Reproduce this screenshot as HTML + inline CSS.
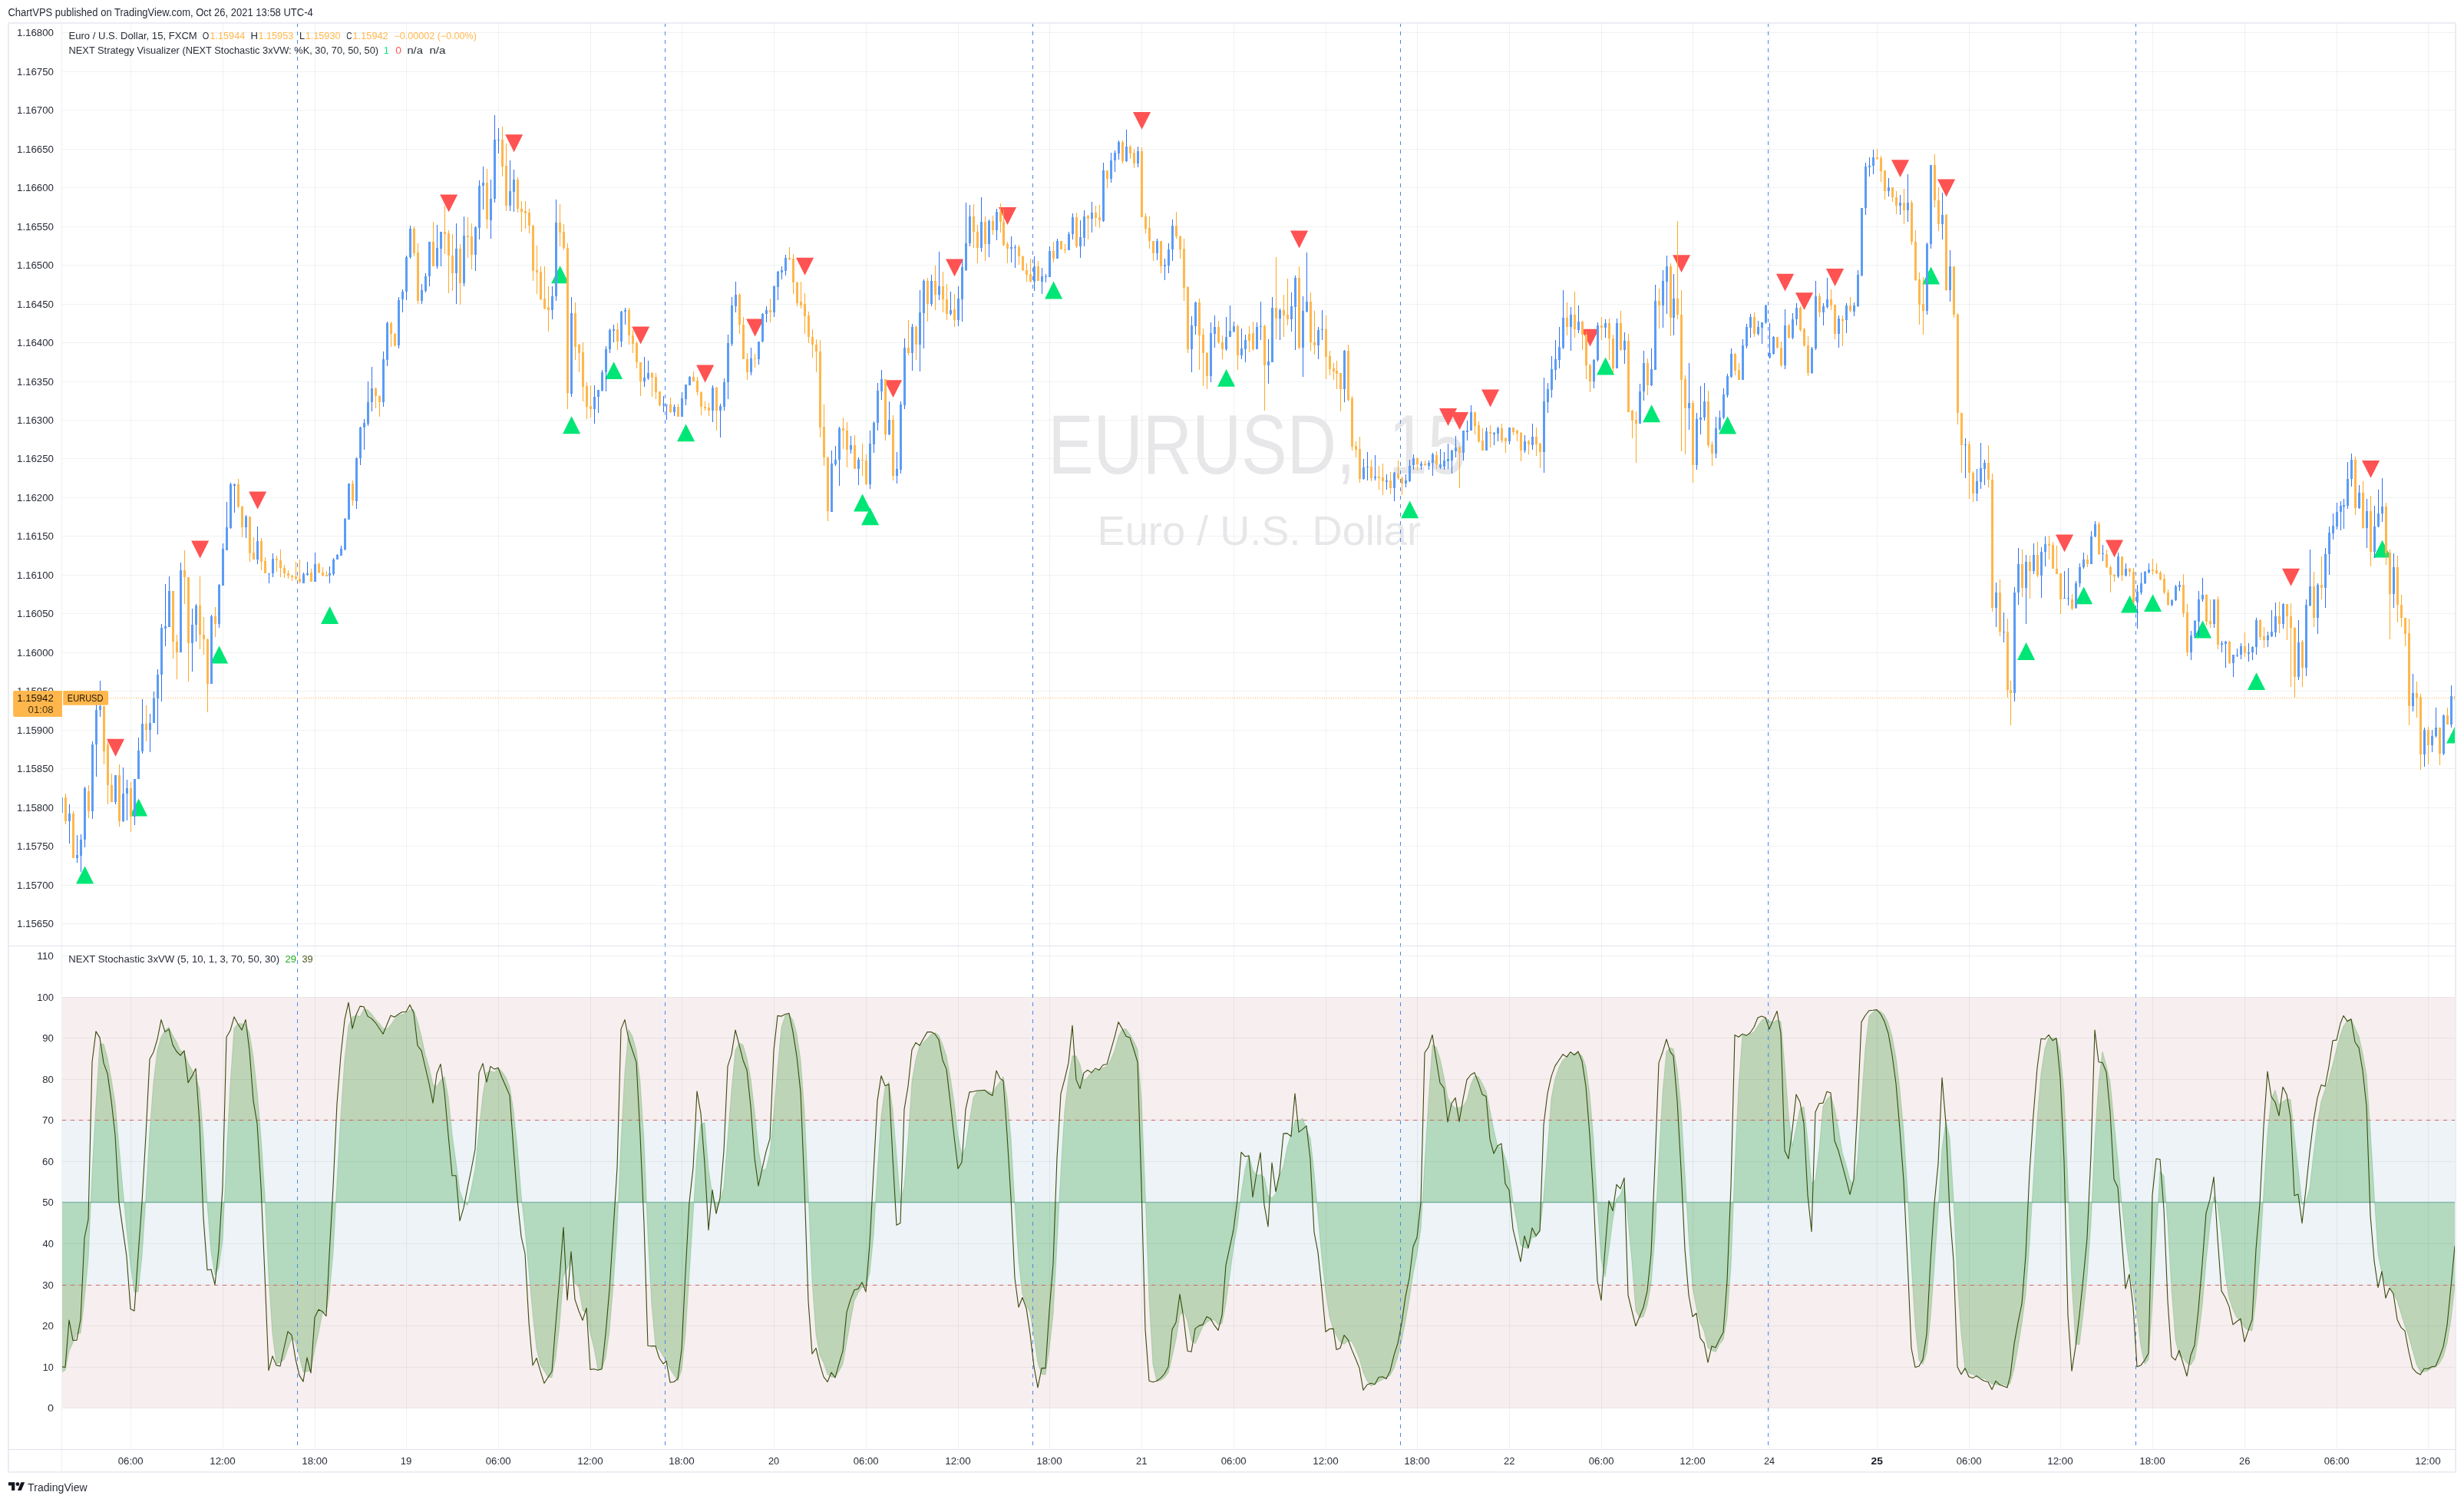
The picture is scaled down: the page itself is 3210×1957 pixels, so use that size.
<!DOCTYPE html>
<html><head><meta charset="utf-8"><title>EURUSD 15 chart</title>
<style>html,body{margin:0;padding:0;background:#fff}svg{display:block;will-change:transform}</style></head>
<body>
<svg width="3210" height="1957" viewBox="0 0 3210 1957" font-family="&quot;Liberation Sans&quot;, sans-serif" font-size="12" fill="#282c37">
<rect width="3210" height="1957" fill="#fff"/>
<clipPath id="cp"><rect x="81.0" y="31" width="3117.5" height="1857.5"/></clipPath>
<g clip-path="url(#cp)">
<polygon points="80,1567.0 80,1788.3 85,1785.2 90,1760.7 95,1749.3 100,1737.5 105,1737.2 110,1692.8 115,1640.3 120,1528.5 125,1438.8 130,1359.9 135,1360.3 140,1378.6 145,1405.9 150,1437.2 155,1493.1 160,1549.0 165,1601.8 170,1648.2 175,1683.6 180,1682.9 185,1636.6 190,1560.2 195,1475.1 200,1409.9 205,1368.2 210,1351.1 215,1342.4 220,1338.1 225,1349.0 230,1357.4 235,1368.9 240,1371.3 245,1384.9 250,1394.0 255,1401.8 260,1419.6 265,1481.0 270,1568.5 275,1631.9 280,1660.8 285,1651.9 290,1615.8 295,1508.4 300,1413.3 305,1339.7 310,1334.0 315,1333.7 320,1334.9 325,1346.5 330,1377.2 335,1422.3 340,1481.3 345,1557.1 350,1664.3 355,1738.0 360,1777.1 365,1775.2 370,1771.8 375,1757.1 380,1743.7 385,1748.4 390,1767.4 395,1787.5 400,1786.9 405,1785.9 410,1758.1 415,1737.2 420,1710.5 425,1709.9 429,1686.3 434,1632.0 439,1539.7 444,1452.7 449,1380.3 454,1336.4 459,1325.0 464,1322.9 469,1324.5 474,1315.1 479,1315.7 484,1321.0 489,1327.9 494,1333.1 499,1339.8 504,1340.8 509,1335.2 514,1327.9 519,1323.3 524,1321.8 529,1319.5 534,1315.4 539,1315.8 544,1330.5 549,1350.3 554,1374.0 559,1390.4 564,1413.1 569,1415.8 574,1407.4 579,1402.7 584,1429.4 589,1477.8 594,1514.1 599,1551.4 604,1565.4 609,1570.7 614,1548.4 619,1522.9 624,1473.0 629,1427.0 634,1397.8 639,1395.0 644,1397.4 649,1391.2 654,1396.2 659,1403.6 664,1415.7 669,1446.8 674,1495.8 679,1557.1 684,1602.4 689,1655.9 694,1711.8 699,1757.1 704,1778.2 709,1786.1 714,1794.4 719,1794.6 724,1768.8 729,1725.7 734,1663.1 739,1652.7 744,1641.3 749,1672.6 754,1677.3 759,1707.2 764,1710.9 769,1736.4 774,1757.5 779,1784.4 784,1784.2 789,1768.9 794,1733.9 799,1673.2 804,1601.2 809,1488.1 814,1397.1 819,1341.2 824,1350.5 829,1368.9 834,1410.5 839,1485.6 844,1608.9 849,1700.6 854,1753.8 859,1759.1 864,1766.8 868,1773.3 873,1783.8 878,1791.6 883,1799.3 888,1785.1 893,1737.5 898,1660.8 903,1581.9 908,1503.3 913,1464.8 918,1462.9 923,1523.2 928,1556.3 933,1578.1 938,1564.2 943,1547.1 948,1483.2 953,1420.8 958,1368.4 963,1359.0 968,1361.5 973,1378.9 978,1405.6 983,1448.1 988,1498.4 993,1525.4 998,1522.7 1003,1502.2 1008,1451.0 1013,1392.0 1018,1338.8 1023,1323.0 1028,1322.0 1033,1328.9 1038,1347.1 1043,1381.3 1048,1448.4 1053,1554.6 1058,1668.3 1063,1738.5 1068,1765.8 1073,1775.7 1078,1790.4 1083,1794.1 1088,1794.5 1093,1786.7 1098,1777.4 1103,1749.0 1108,1721.1 1113,1694.6 1118,1684.4 1123,1677.0 1128,1677.7 1133,1658.1 1138,1610.3 1143,1527.3 1148,1454.3 1153,1416.8 1158,1409.7 1163,1445.4 1168,1505.9 1173,1566.2 1178,1545.0 1183,1484.8 1188,1409.5 1193,1380.5 1198,1362.8 1203,1357.9 1208,1353.3 1213,1347.5 1218,1345.5 1223,1348.9 1228,1361.0 1233,1376.3 1238,1403.4 1243,1436.6 1248,1479.8 1253,1505.9 1258,1494.1 1263,1460.8 1268,1430.1 1273,1422.0 1278,1421.3 1283,1420.7 1288,1421.9 1293,1424.1 1298,1415.7 1303,1409.2 1307,1402.8 1312,1430.7 1317,1482.5 1322,1568.3 1327,1643.1 1332,1686.3 1337,1699.3 1342,1710.9 1347,1741.0 1352,1775.5 1357,1790.4 1362,1791.0 1367,1757.7 1372,1712.4 1377,1621.1 1382,1526.6 1387,1446.5 1392,1405.3 1397,1375.7 1402,1375.9 1407,1387.1 1412,1407.7 1417,1403.5 1422,1396.6 1427,1394.6 1432,1394.6 1437,1391.2 1442,1389.5 1447,1381.0 1452,1369.0 1457,1350.6 1462,1341.0 1467,1340.7 1472,1347.5 1477,1356.4 1482,1367.6 1487,1432.2 1492,1554.0 1497,1692.5 1502,1777.5 1507,1799.8 1512,1798.6 1517,1795.0 1522,1788.8 1527,1767.7 1532,1745.3 1537,1713.9 1542,1708.9 1547,1721.3 1552,1746.3 1557,1750.9 1562,1740.0 1567,1728.2 1572,1722.9 1577,1719.8 1582,1720.1 1587,1726.0 1592,1724.6 1597,1698.5 1602,1662.4 1607,1625.2 1612,1596.6 1617,1555.2 1622,1523.5 1627,1504.7 1632,1524.2 1637,1531.6 1642,1530.2 1647,1533.7 1652,1556.7 1657,1561.1 1662,1555.2 1667,1532.2 1672,1519.6 1677,1494.2 1682,1478.1 1687,1460.7 1692,1460.2 1697,1457.1 1702,1471.1 1707,1482.9 1712,1527.6 1717,1582.6 1722,1639.1 1727,1682.3 1732,1715.6 1737,1732.6 1741,1740.3 1746,1748.7 1751,1751.5 1756,1747.2 1761,1747.8 1766,1758.0 1771,1770.4 1776,1788.0 1781,1799.3 1786,1805.9 1791,1803.4 1796,1800.2 1801,1797.4 1806,1794.9 1811,1792.1 1816,1782.8 1821,1767.4 1826,1746.7 1831,1721.2 1836,1692.9 1841,1659.6 1846,1633.9 1851,1600.9 1856,1516.7 1861,1434.1 1866,1361.4 1871,1364.3 1876,1379.8 1881,1402.8 1886,1430.1 1891,1439.1 1896,1443.4 1901,1443.2 1906,1441.3 1911,1433.5 1916,1413.2 1921,1401.7 1926,1402.9 1931,1411.4 1936,1421.7 1941,1446.3 1946,1472.0 1951,1493.5 1956,1495.3 1961,1508.4 1966,1527.6 1971,1564.7 1976,1591.4 1981,1622.4 1986,1625.5 1991,1626.8 1996,1612.1 2001,1612.0 2006,1604.5 2011,1559.8 2016,1498.1 2021,1431.0 2026,1405.3 2031,1390.7 2036,1381.2 2041,1377.3 2046,1373.8 2051,1374.1 2056,1371.7 2061,1375.7 2066,1389.4 2071,1425.6 2076,1485.0 2081,1569.5 2086,1641.3 2091,1663.7 2096,1628.9 2101,1590.0 2106,1561.8 2111,1556.6 2116,1542.3 2121,1590.4 2126,1643.4 2131,1707.8 2136,1717.1 2141,1715.5 2146,1700.2 2151,1672.9 2156,1610.5 2161,1511.5 2166,1423.9 2171,1369.9 2176,1365.1 2180,1366.7 2185,1393.5 2190,1444.4 2195,1528.5 2200,1613.0 2205,1677.0 2210,1704.7 2215,1723.3 2220,1734.7 2225,1756.1 2230,1759.6 2235,1761.6 2240,1751.6 2245,1745.7 2250,1716.7 2255,1650.3 2260,1521.1 2265,1415.2 2270,1349.0 2275,1349.2 2280,1347.4 2285,1344.4 2290,1336.7 2295,1329.5 2300,1325.4 2305,1330.3 2310,1332.0 2315,1329.1 2320,1331.0 2325,1387.7 2330,1451.9 2335,1493.5 2340,1469.0 2345,1444.4 2350,1441.9 2355,1485.6 2360,1541.9 2365,1537.0 2370,1497.2 2375,1441.3 2380,1432.3 2385,1427.8 2390,1444.2 2395,1469.9 2400,1501.2 2405,1517.9 2410,1537.0 2415,1543.2 2420,1511.5 2425,1436.6 2430,1365.4 2435,1323.8 2440,1318.7 2445,1316.2 2450,1317.7 2455,1322.5 2460,1332.8 2465,1350.6 2470,1377.6 2475,1419.2 2480,1473.8 2485,1550.9 2490,1645.9 2495,1726.9 2500,1772.6 2505,1777.6 2510,1763.1 2515,1717.4 2520,1649.6 2525,1575.7 2530,1496.2 2535,1461.4 2540,1482.5 2545,1562.1 2550,1667.7 2555,1738.1 2560,1784.7 2565,1789.0 2570,1790.7 2575,1794.0 2580,1794.9 2585,1796.1 2590,1798.7 2595,1803.4 2600,1803.4 2605,1804.7 2610,1803.2 2615,1806.1 2619,1802.0 2624,1783.6 2629,1755.2 2634,1724.2 2639,1685.7 2644,1620.4 2649,1538.4 2654,1457.1 2659,1399.1 2664,1366.1 2669,1351.8 2674,1352.7 2679,1352.3 2684,1371.0 2689,1423.2 2694,1543.4 2699,1670.8 2704,1751.5 2709,1751.5 2714,1711.1 2719,1663.9 2724,1594.4 2729,1486.6 2734,1410.2 2739,1370.1 2744,1388.4 2749,1410.1 2754,1460.8 2759,1510.9 2764,1565.5 2769,1613.0 2774,1650.8 2779,1680.6 2784,1714.5 2789,1754.0 2794,1777.2 2799,1771.4 2804,1697.5 2809,1610.0 2814,1525.8 2819,1532.0 2824,1593.7 2829,1679.5 2834,1744.9 2839,1766.4 2844,1769.3 2849,1776.2 2854,1778.4 2859,1770.5 2864,1741.6 2869,1701.8 2874,1644.4 2879,1596.6 2884,1558.9 2889,1569.8 2894,1609.5 2899,1661.8 2904,1691.6 2909,1706.3 2914,1716.7 2919,1721.9 2924,1729.4 2929,1733.3 2934,1733.6 2939,1693.5 2944,1638.5 2949,1554.6 2954,1477.3 2959,1431.0 2964,1420.4 2969,1439.7 2974,1435.3 2979,1432.0 2984,1432.6 2989,1479.8 2994,1523.2 2999,1569.1 3004,1566.4 3009,1548.1 3014,1503.7 3019,1463.9 3024,1434.7 3029,1419.8 3034,1406.1 3039,1386.9 3044,1366.7 3049,1348.1 3053,1337.3 3058,1329.2 3063,1327.4 3068,1338.8 3073,1350.2 3078,1372.6 3083,1400.5 3088,1473.2 3093,1555.8 3098,1634.5 3103,1659.0 3108,1675.1 3113,1675.4 3118,1685.0 3123,1694.4 3128,1711.5 3133,1727.7 3138,1741.6 3143,1759.2 3148,1777.2 3153,1787.3 3158,1787.5 3163,1785.9 3168,1782.5 3173,1781.3 3178,1776.4 3183,1767.7 3188,1749.9 3193,1719.2 3198,1675.5 3198,1567.0" fill="rgba(76,175,80,0.355)"/>
<polyline points="80,1788.3 85,1785.2 90,1760.7 95,1749.3 100,1737.5 105,1737.2 110,1692.8 115,1640.3 120,1528.5 125,1438.8 130,1359.9 135,1360.3 140,1378.6 145,1405.9 150,1437.2 155,1493.1 160,1549.0 165,1601.8 170,1648.2 175,1683.6 180,1682.9 185,1636.6 190,1560.2 195,1475.1 200,1409.9 205,1368.2 210,1351.1 215,1342.4 220,1338.1 225,1349.0 230,1357.4 235,1368.9 240,1371.3 245,1384.9 250,1394.0 255,1401.8 260,1419.6 265,1481.0 270,1568.5 275,1631.9 280,1660.8 285,1651.9 290,1615.8 295,1508.4 300,1413.3 305,1339.7 310,1334.0 315,1333.7 320,1334.9 325,1346.5 330,1377.2 335,1422.3 340,1481.3 345,1557.1 350,1664.3 355,1738.0 360,1777.1 365,1775.2 370,1771.8 375,1757.1 380,1743.7 385,1748.4 390,1767.4 395,1787.5 400,1786.9 405,1785.9 410,1758.1 415,1737.2 420,1710.5 425,1709.9 429,1686.3 434,1632.0 439,1539.7 444,1452.7 449,1380.3 454,1336.4 459,1325.0 464,1322.9 469,1324.5 474,1315.1 479,1315.7 484,1321.0 489,1327.9 494,1333.1 499,1339.8 504,1340.8 509,1335.2 514,1327.9 519,1323.3 524,1321.8 529,1319.5 534,1315.4 539,1315.8 544,1330.5 549,1350.3 554,1374.0 559,1390.4 564,1413.1 569,1415.8 574,1407.4 579,1402.7 584,1429.4 589,1477.8 594,1514.1 599,1551.4 604,1565.4 609,1570.7 614,1548.4 619,1522.9 624,1473.0 629,1427.0 634,1397.8 639,1395.0 644,1397.4 649,1391.2 654,1396.2 659,1403.6 664,1415.7 669,1446.8 674,1495.8 679,1557.1 684,1602.4 689,1655.9 694,1711.8 699,1757.1 704,1778.2 709,1786.1 714,1794.4 719,1794.6 724,1768.8 729,1725.7 734,1663.1 739,1652.7 744,1641.3 749,1672.6 754,1677.3 759,1707.2 764,1710.9 769,1736.4 774,1757.5 779,1784.4 784,1784.2 789,1768.9 794,1733.9 799,1673.2 804,1601.2 809,1488.1 814,1397.1 819,1341.2 824,1350.5 829,1368.9 834,1410.5 839,1485.6 844,1608.9 849,1700.6 854,1753.8 859,1759.1 864,1766.8 868,1773.3 873,1783.8 878,1791.6 883,1799.3 888,1785.1 893,1737.5 898,1660.8 903,1581.9 908,1503.3 913,1464.8 918,1462.9 923,1523.2 928,1556.3 933,1578.1 938,1564.2 943,1547.1 948,1483.2 953,1420.8 958,1368.4 963,1359.0 968,1361.5 973,1378.9 978,1405.6 983,1448.1 988,1498.4 993,1525.4 998,1522.7 1003,1502.2 1008,1451.0 1013,1392.0 1018,1338.8 1023,1323.0 1028,1322.0 1033,1328.9 1038,1347.1 1043,1381.3 1048,1448.4 1053,1554.6 1058,1668.3 1063,1738.5 1068,1765.8 1073,1775.7 1078,1790.4 1083,1794.1 1088,1794.5 1093,1786.7 1098,1777.4 1103,1749.0 1108,1721.1 1113,1694.6 1118,1684.4 1123,1677.0 1128,1677.7 1133,1658.1 1138,1610.3 1143,1527.3 1148,1454.3 1153,1416.8 1158,1409.7 1163,1445.4 1168,1505.9 1173,1566.2 1178,1545.0 1183,1484.8 1188,1409.5 1193,1380.5 1198,1362.8 1203,1357.9 1208,1353.3 1213,1347.5 1218,1345.5 1223,1348.9 1228,1361.0 1233,1376.3 1238,1403.4 1243,1436.6 1248,1479.8 1253,1505.9 1258,1494.1 1263,1460.8 1268,1430.1 1273,1422.0 1278,1421.3 1283,1420.7 1288,1421.9 1293,1424.1 1298,1415.7 1303,1409.2 1307,1402.8 1312,1430.7 1317,1482.5 1322,1568.3 1327,1643.1 1332,1686.3 1337,1699.3 1342,1710.9 1347,1741.0 1352,1775.5 1357,1790.4 1362,1791.0 1367,1757.7 1372,1712.4 1377,1621.1 1382,1526.6 1387,1446.5 1392,1405.3 1397,1375.7 1402,1375.9 1407,1387.1 1412,1407.7 1417,1403.5 1422,1396.6 1427,1394.6 1432,1394.6 1437,1391.2 1442,1389.5 1447,1381.0 1452,1369.0 1457,1350.6 1462,1341.0 1467,1340.7 1472,1347.5 1477,1356.4 1482,1367.6 1487,1432.2 1492,1554.0 1497,1692.5 1502,1777.5 1507,1799.8 1512,1798.6 1517,1795.0 1522,1788.8 1527,1767.7 1532,1745.3 1537,1713.9 1542,1708.9 1547,1721.3 1552,1746.3 1557,1750.9 1562,1740.0 1567,1728.2 1572,1722.9 1577,1719.8 1582,1720.1 1587,1726.0 1592,1724.6 1597,1698.5 1602,1662.4 1607,1625.2 1612,1596.6 1617,1555.2 1622,1523.5 1627,1504.7 1632,1524.2 1637,1531.6 1642,1530.2 1647,1533.7 1652,1556.7 1657,1561.1 1662,1555.2 1667,1532.2 1672,1519.6 1677,1494.2 1682,1478.1 1687,1460.7 1692,1460.2 1697,1457.1 1702,1471.1 1707,1482.9 1712,1527.6 1717,1582.6 1722,1639.1 1727,1682.3 1732,1715.6 1737,1732.6 1741,1740.3 1746,1748.7 1751,1751.5 1756,1747.2 1761,1747.8 1766,1758.0 1771,1770.4 1776,1788.0 1781,1799.3 1786,1805.9 1791,1803.4 1796,1800.2 1801,1797.4 1806,1794.9 1811,1792.1 1816,1782.8 1821,1767.4 1826,1746.7 1831,1721.2 1836,1692.9 1841,1659.6 1846,1633.9 1851,1600.9 1856,1516.7 1861,1434.1 1866,1361.4 1871,1364.3 1876,1379.8 1881,1402.8 1886,1430.1 1891,1439.1 1896,1443.4 1901,1443.2 1906,1441.3 1911,1433.5 1916,1413.2 1921,1401.7 1926,1402.9 1931,1411.4 1936,1421.7 1941,1446.3 1946,1472.0 1951,1493.5 1956,1495.3 1961,1508.4 1966,1527.6 1971,1564.7 1976,1591.4 1981,1622.4 1986,1625.5 1991,1626.8 1996,1612.1 2001,1612.0 2006,1604.5 2011,1559.8 2016,1498.1 2021,1431.0 2026,1405.3 2031,1390.7 2036,1381.2 2041,1377.3 2046,1373.8 2051,1374.1 2056,1371.7 2061,1375.7 2066,1389.4 2071,1425.6 2076,1485.0 2081,1569.5 2086,1641.3 2091,1663.7 2096,1628.9 2101,1590.0 2106,1561.8 2111,1556.6 2116,1542.3 2121,1590.4 2126,1643.4 2131,1707.8 2136,1717.1 2141,1715.5 2146,1700.2 2151,1672.9 2156,1610.5 2161,1511.5 2166,1423.9 2171,1369.9 2176,1365.1 2180,1366.7 2185,1393.5 2190,1444.4 2195,1528.5 2200,1613.0 2205,1677.0 2210,1704.7 2215,1723.3 2220,1734.7 2225,1756.1 2230,1759.6 2235,1761.6 2240,1751.6 2245,1745.7 2250,1716.7 2255,1650.3 2260,1521.1 2265,1415.2 2270,1349.0 2275,1349.2 2280,1347.4 2285,1344.4 2290,1336.7 2295,1329.5 2300,1325.4 2305,1330.3 2310,1332.0 2315,1329.1 2320,1331.0 2325,1387.7 2330,1451.9 2335,1493.5 2340,1469.0 2345,1444.4 2350,1441.9 2355,1485.6 2360,1541.9 2365,1537.0 2370,1497.2 2375,1441.3 2380,1432.3 2385,1427.8 2390,1444.2 2395,1469.9 2400,1501.2 2405,1517.9 2410,1537.0 2415,1543.2 2420,1511.5 2425,1436.6 2430,1365.4 2435,1323.8 2440,1318.7 2445,1316.2 2450,1317.7 2455,1322.5 2460,1332.8 2465,1350.6 2470,1377.6 2475,1419.2 2480,1473.8 2485,1550.9 2490,1645.9 2495,1726.9 2500,1772.6 2505,1777.6 2510,1763.1 2515,1717.4 2520,1649.6 2525,1575.7 2530,1496.2 2535,1461.4 2540,1482.5 2545,1562.1 2550,1667.7 2555,1738.1 2560,1784.7 2565,1789.0 2570,1790.7 2575,1794.0 2580,1794.9 2585,1796.1 2590,1798.7 2595,1803.4 2600,1803.4 2605,1804.7 2610,1803.2 2615,1806.1 2619,1802.0 2624,1783.6 2629,1755.2 2634,1724.2 2639,1685.7 2644,1620.4 2649,1538.4 2654,1457.1 2659,1399.1 2664,1366.1 2669,1351.8 2674,1352.7 2679,1352.3 2684,1371.0 2689,1423.2 2694,1543.4 2699,1670.8 2704,1751.5 2709,1751.5 2714,1711.1 2719,1663.9 2724,1594.4 2729,1486.6 2734,1410.2 2739,1370.1 2744,1388.4 2749,1410.1 2754,1460.8 2759,1510.9 2764,1565.5 2769,1613.0 2774,1650.8 2779,1680.6 2784,1714.5 2789,1754.0 2794,1777.2 2799,1771.4 2804,1697.5 2809,1610.0 2814,1525.8 2819,1532.0 2824,1593.7 2829,1679.5 2834,1744.9 2839,1766.4 2844,1769.3 2849,1776.2 2854,1778.4 2859,1770.5 2864,1741.6 2869,1701.8 2874,1644.4 2879,1596.6 2884,1558.9 2889,1569.8 2894,1609.5 2899,1661.8 2904,1691.6 2909,1706.3 2914,1716.7 2919,1721.9 2924,1729.4 2929,1733.3 2934,1733.6 2939,1693.5 2944,1638.5 2949,1554.6 2954,1477.3 2959,1431.0 2964,1420.4 2969,1439.7 2974,1435.3 2979,1432.0 2984,1432.6 2989,1479.8 2994,1523.2 2999,1569.1 3004,1566.4 3009,1548.1 3014,1503.7 3019,1463.9 3024,1434.7 3029,1419.8 3034,1406.1 3039,1386.9 3044,1366.7 3049,1348.1 3053,1337.3 3058,1329.2 3063,1327.4 3068,1338.8 3073,1350.2 3078,1372.6 3083,1400.5 3088,1473.2 3093,1555.8 3098,1634.5 3103,1659.0 3108,1675.1 3113,1675.4 3118,1685.0 3123,1694.4 3128,1711.5 3133,1727.7 3138,1741.6 3143,1759.2 3148,1777.2 3153,1787.3 3158,1787.5 3163,1785.9 3168,1782.5 3173,1781.3 3178,1776.4 3183,1767.7 3188,1749.9 3193,1719.2 3198,1675.5" fill="none" stroke="rgba(76,175,80,0.3)" stroke-width="1"/>
</g>
<rect x="81" y="1299.20" width="3117.5" height="160.65" fill="rgba(175,85,95,0.1)"/>
<rect x="81" y="1459.85" width="3117.5" height="214.20" fill="rgba(75,135,165,0.1)"/>
<rect x="81" y="1674.05" width="3117.5" height="160.65" fill="rgba(175,85,95,0.1)"/>
<path d="M80.5 42.5H3199M80.5 93.5H3199M80.5 143.5H3199M80.5 194.5H3199M80.5 244.5H3199M80.5 295.5H3199M80.5 345.5H3199M80.5 396.5H3199M80.5 446.5H3199M80.5 497.5H3199M80.5 547.5H3199M80.5 597.5H3199M80.5 648.5H3199M80.5 698.5H3199M80.5 749.5H3199M80.5 799.5H3199M80.5 850.5H3199M80.5 900.5H3199M80.5 951.5H3199M80.5 1001.5H3199M80.5 1052.5H3199M80.5 1102.5H3199M80.5 1153.5H3199M80.5 1203.5H3199M80.5 1834.5H3199M80.5 1781.5H3199M80.5 1727.5H3199M80.5 1674.5H3199M80.5 1620.5H3199M80.5 1566.5H3199M80.5 1513.5H3199M80.5 1459.5H3199M80.5 1406.5H3199M80.5 1352.5H3199M80.5 1299.5H3199M80.5 1245.5H3199M170.5 30V1888.5M290.5 30V1888.5M410.5 30V1888.5M529.5 30V1888.5M649.5 30V1888.5M769.5 30V1888.5M888.5 30V1888.5M1008.5 30V1888.5M1128.5 30V1888.5M1248.5 30V1888.5M1367.5 30V1888.5M1487.5 30V1888.5M1607.5 30V1888.5M1727.5 30V1888.5M1846.5 30V1888.5M1966.5 30V1888.5M2086.5 30V1888.5M2205.5 30V1888.5M2305.5 30V1888.5M2445.5 30V1888.5M2565.5 30V1888.5M2684.5 30V1888.5M2804.5 30V1888.5M2924.5 30V1888.5M3044.5 30V1888.5M3163.5 30V1888.5" stroke="rgba(20,50,40,0.063)" stroke-width="1" fill="none"/>
<text x="1365.25" y="616.8" textLength="400.40" lengthAdjust="spacingAndGlyphs" font-size="110" fill="#e7e7ea">EURUSD,</text><text x="1808.77" y="616.8" textLength="101.94" lengthAdjust="spacingAndGlyphs" font-size="110" fill="#e7e7ea">15</text>
<text x="1429.6" y="710" font-size="54.5" fill="#e7e7ea" textLength="421.4" lengthAdjust="spacingAndGlyphs">Euro / U.S. Dollar</text>
<path d="M387.5 30V1888.5M866.5 30V1888.5M1345.5 30V1888.5M1824.5 30V1888.5M2303.5 30V1888.5M2782.5 30V1888.5" stroke="#4687f0" stroke-width="1" stroke-dasharray="5 6" fill="none"/>
<g clip-path="url(#cp)">
<path d="M141 909.5H3199" stroke="#ffb74d" stroke-width="1" stroke-dasharray="1 2" fill="none"/>
<path fill="#00e676" d="M110.6 1128.5l11.55 22.9h-23.1z"/><path fill="#00e676" d="M180.6 1040.6l11.55 22.9h-23.1z"/><path fill="#00e676" d="M285.6 841.5l11.55 22.9h-23.1z"/><path fill="#00e676" d="M429.6 790.1l11.55 22.9h-23.1z"/><path fill="#00e676" d="M729.6 346.3l11.55 22.9h-23.1z"/><path fill="#00e676" d="M744.6 542.3l11.55 22.9h-23.1z"/><path fill="#00e676" d="M799.6 471.2l11.55 22.9h-23.1z"/><path fill="#00e676" d="M893.6 552.4l11.55 22.9h-23.1z"/><path fill="#00e676" d="M1123.6 643.6l11.55 22.9h-23.1z"/><path fill="#00e676" d="M1133.6 661.4l11.55 22.9h-23.1z"/><path fill="#00e676" d="M1372.6 366.6l11.55 22.9h-23.1z"/><path fill="#00e676" d="M1597.6 480.9l11.55 22.9h-23.1z"/><path fill="#00e676" d="M1836.6 652.4l11.55 22.9h-23.1z"/><path fill="#00e676" d="M2091.6 465.5l11.55 22.9h-23.1z"/><path fill="#00e676" d="M2151.6 527.3l11.55 22.9h-23.1z"/><path fill="#00e676" d="M2250.6 542.6l11.55 22.9h-23.1z"/><path fill="#00e676" d="M2515.6 347.5l11.55 22.9h-23.1z"/><path fill="#00e676" d="M2639.6 837.0l11.55 22.9h-23.1z"/><path fill="#00e676" d="M2714.6 764.4l11.55 22.9h-23.1z"/><path fill="#00e676" d="M2774.6 775.7l11.55 22.9h-23.1z"/><path fill="#00e676" d="M2804.6 774.2l11.55 22.9h-23.1z"/><path fill="#00e676" d="M2869.6 808.5l11.55 22.9h-23.1z"/><path fill="#00e676" d="M2939.6 876.2l11.55 22.9h-23.1z"/><path fill="#00e676" d="M3103.6 703.7l11.55 22.9h-23.1z"/><path fill="#00e676" d="M3198.6 945.7l11.55 22.9h-23.1z"/><path fill="#ff5252" d="M139.0 962.8h23.1l-11.55 22.9z"/><path fill="#ff5252" d="M249.1 704.6h23.1l-11.55 22.9z"/><path fill="#ff5252" d="M324.1 640.6h23.1l-11.55 22.9z"/><path fill="#ff5252" d="M573.1 253.4h23.1l-11.55 22.9z"/><path fill="#ff5252" d="M658.1 175.3h23.1l-11.55 22.9z"/><path fill="#ff5252" d="M823.1 425.6h23.1l-11.55 22.9z"/><path fill="#ff5252" d="M907.1 475.5h23.1l-11.55 22.9z"/><path fill="#ff5252" d="M972.1 415.5h23.1l-11.55 22.9z"/><path fill="#ff5252" d="M1037.0 335.8h23.1l-11.55 22.9z"/><path fill="#ff5252" d="M1152.0 495.2h23.1l-11.55 22.9z"/><path fill="#ff5252" d="M1232.0 337.4h23.1l-11.55 22.9z"/><path fill="#ff5252" d="M1301.0 270.0h23.1l-11.55 22.9z"/><path fill="#ff5252" d="M1476.0 145.9h23.1l-11.55 22.9z"/><path fill="#ff5252" d="M1681.0 300.6h23.1l-11.55 22.9z"/><path fill="#ff5252" d="M1875.0 532.0h23.1l-11.55 22.9z"/><path fill="#ff5252" d="M1890.0 537.1h23.1l-11.55 22.9z"/><path fill="#ff5252" d="M1930.0 507.5h23.1l-11.55 22.9z"/><path fill="#ff5252" d="M2060.0 428.7h23.1l-11.55 22.9z"/><path fill="#ff5252" d="M2179.0 332.2h23.1l-11.55 22.9z"/><path fill="#ff5252" d="M2314.0 356.7h23.1l-11.55 22.9z"/><path fill="#ff5252" d="M2339.0 381.2h23.1l-11.55 22.9z"/><path fill="#ff5252" d="M2379.0 350.0h23.1l-11.55 22.9z"/><path fill="#ff5252" d="M2464.0 208.2h23.1l-11.55 22.9z"/><path fill="#ff5252" d="M2524.0 233.6h23.1l-11.55 22.9z"/><path fill="#ff5252" d="M2678.0 696.4h23.1l-11.55 22.9z"/><path fill="#ff5252" d="M2743.0 703.4h23.1l-11.55 22.9z"/><path fill="#ff5252" d="M2973.0 740.8h23.1l-11.55 22.9z"/><path fill="#ff5252" d="M3077.0 599.9h23.1l-11.55 22.9z"/>

<g shape-rendering="crispEdges"><path fill="#2f6ff5" d="M80 1039h1v20h-1zM90 1048h1v51h-1zM100 1088h1v36h-1zM105 1087h1v49h-1zM110 1025h1v79h-1zM120 966h1v101h-1zM125 914h1v98h-1zM130 887h1v47h-1zM150 1010h1v38h-1zM160 1000h1v71h-1zM165 1016h1v53h-1zM175 1015h1v60h-1zM180 961h1v54h-1zM185 911h1v71h-1zM195 930h1v50h-1zM200 901h1v41h-1zM205 872h1v85h-1zM210 813h1v101h-1zM215 761h1v81h-1zM220 751h1v66h-1zM235 733h1v117h-1zM250 793h1v82h-1zM255 787h1v49h-1zM275 801h1v90h-1zM285 761h1v57h-1zM290 708h1v55h-1zM295 654h1v63h-1zM300 629h1v60h-1zM305 630h1v38h-1zM320 671h1v30h-1zM335 686h1v49h-1zM350 747h1v13h-1zM355 721h1v31h-1zM395 746h1v14h-1zM400 732h1v18h-1zM410 720h1v38h-1zM429 738h1v22h-1zM434 727h1v23h-1zM439 722h1v7h-1zM444 711h1v13h-1zM449 675h1v42h-1zM454 630h1v47h-1zM464 596h1v67h-1zM469 556h1v50h-1zM474 546h1v40h-1zM479 497h1v58h-1zM484 478h1v58h-1zM499 458h1v72h-1zM504 419h1v58h-1zM519 387h1v67h-1zM524 377h1v30h-1zM529 333h1v58h-1zM534 294h1v43h-1zM549 370h1v26h-1zM554 356h1v25h-1zM559 315h1v58h-1zM569 293h1v57h-1zM574 302h1v45h-1zM594 291h1v105h-1zM604 282h1v91h-1zM619 295h1v58h-1zM624 235h1v77h-1zM629 217h1v56h-1zM639 234h1v77h-1zM644 150h1v114h-1zM649 167h1v33h-1zM664 209h1v66h-1zM669 221h1v55h-1zM719 373h1v43h-1zM724 260h1v132h-1zM744 387h1v130h-1zM774 502h1v50h-1zM779 508h1v30h-1zM784 482h1v28h-1zM789 451h1v59h-1zM794 428h1v32h-1zM799 423h1v23h-1zM809 405h1v47h-1zM814 401h1v22h-1zM839 465h1v39h-1zM844 470h1v25h-1zM864 516h1v21h-1zM868 527h1v20h-1zM878 527h1v15h-1zM888 511h1v32h-1zM893 501h1v27h-1zM898 490h1v12h-1zM928 502h1v48h-1zM938 526h1v44h-1zM943 493h1v42h-1zM948 436h1v84h-1zM953 387h1v64h-1zM958 367h1v40h-1zM978 453h1v36h-1zM988 445h1v30h-1zM993 408h1v38h-1zM998 399h1v21h-1zM1008 372h1v41h-1zM1013 353h1v38h-1zM1018 347h1v17h-1zM1023 332h1v27h-1zM1083 587h1v80h-1zM1088 581h1v26h-1zM1093 556h1v77h-1zM1108 568h1v23h-1zM1118 596h1v36h-1zM1133 561h1v76h-1zM1138 549h1v41h-1zM1143 499h1v62h-1zM1148 482h1v39h-1zM1158 523h1v44h-1zM1168 589h1v41h-1zM1173 523h1v94h-1zM1178 441h1v92h-1zM1188 422h1v61h-1zM1198 378h1v106h-1zM1203 364h1v90h-1zM1213 358h1v41h-1zM1223 328h1v63h-1zM1238 380h1v31h-1zM1248 373h1v52h-1zM1253 339h1v80h-1zM1258 264h1v89h-1zM1263 267h1v54h-1zM1278 257h1v71h-1zM1288 286h1v49h-1zM1298 272h1v41h-1zM1317 308h1v34h-1zM1322 319h1v30h-1zM1347 334h1v45h-1zM1357 349h1v34h-1zM1362 357h1v11h-1zM1367 321h1v40h-1zM1377 311h1v26h-1zM1392 302h1v24h-1zM1397 278h1v34h-1zM1407 287h1v49h-1zM1412 274h1v47h-1zM1422 263h1v40h-1zM1437 212h1v77h-1zM1447 199h1v39h-1zM1452 196h1v28h-1zM1457 183h1v25h-1zM1467 169h1v42h-1zM1482 191h1v27h-1zM1507 311h1v28h-1zM1517 337h1v28h-1zM1522 317h1v39h-1zM1527 286h1v54h-1zM1552 412h1v73h-1zM1557 393h1v43h-1zM1577 420h1v78h-1zM1582 411h1v42h-1zM1597 413h1v44h-1zM1602 398h1v41h-1zM1607 419h1v14h-1zM1617 428h1v40h-1zM1622 436h1v36h-1zM1637 420h1v35h-1zM1642 393h1v50h-1zM1652 442h1v58h-1zM1657 387h1v85h-1zM1667 402h1v41h-1zM1682 381h1v51h-1zM1687 359h1v97h-1zM1697 386h1v105h-1zM1702 329h1v78h-1zM1717 426h1v42h-1zM1722 404h1v39h-1zM1751 456h1v68h-1zM1776 598h1v27h-1zM1781 589h1v37h-1zM1791 593h1v33h-1zM1806 618h1v20h-1zM1816 615h1v38h-1zM1831 618h1v17h-1zM1836 599h1v29h-1zM1841 592h1v20h-1zM1851 601h1v11h-1zM1861 600h1v12h-1zM1866 590h1v30h-1zM1876 585h1v26h-1zM1881 589h1v23h-1zM1886 578h1v33h-1zM1891 586h1v31h-1zM1896 568h1v28h-1zM1906 561h1v39h-1zM1911 548h1v26h-1zM1916 528h1v33h-1zM1936 557h1v30h-1zM1946 563h1v17h-1zM1951 556h1v19h-1zM1966 557h1v22h-1zM1986 567h1v23h-1zM1996 552h1v34h-1zM2011 492h1v124h-1zM2016 499h1v39h-1zM2021 464h1v54h-1zM2026 443h1v52h-1zM2031 426h1v54h-1zM2036 378h1v77h-1zM2046 400h1v57h-1zM2056 398h1v36h-1zM2076 468h1v38h-1zM2081 420h1v51h-1zM2091 416h1v24h-1zM2106 415h1v65h-1zM2116 433h1v41h-1zM2136 500h1v52h-1zM2141 457h1v65h-1zM2151 454h1v49h-1zM2156 371h1v111h-1zM2166 352h1v75h-1zM2171 333h1v76h-1zM2180 357h1v80h-1zM2200 473h1v87h-1zM2210 538h1v74h-1zM2215 503h1v63h-1zM2220 499h1v49h-1zM2235 543h1v54h-1zM2240 535h1v26h-1zM2245 506h1v40h-1zM2250 487h1v31h-1zM2255 454h1v38h-1zM2270 442h1v53h-1zM2275 422h1v32h-1zM2280 409h1v31h-1zM2290 418h1v19h-1zM2295 420h1v28h-1zM2300 397h1v25h-1zM2305 421h1v46h-1zM2310 438h1v24h-1zM2325 403h1v78h-1zM2335 408h1v34h-1zM2340 395h1v29h-1zM2360 452h1v35h-1zM2365 366h1v90h-1zM2375 395h1v29h-1zM2380 362h1v40h-1zM2395 411h1v42h-1zM2405 395h1v39h-1zM2415 394h1v18h-1zM2420 352h1v48h-1zM2425 271h1v89h-1zM2430 212h1v68h-1zM2435 205h1v25h-1zM2440 195h1v32h-1zM2460 232h1v24h-1zM2475 254h1v26h-1zM2485 227h1v62h-1zM2510 316h1v94h-1zM2515 215h1v109h-1zM2530 251h1v61h-1zM2540 326h1v67h-1zM2560 571h1v52h-1zM2575 611h1v42h-1zM2580 577h1v60h-1zM2585 599h1v33h-1zM2600 759h1v58h-1zM2610 798h1v39h-1zM2624 765h1v149h-1zM2629 714h1v74h-1zM2639 723h1v90h-1zM2649 708h1v40h-1zM2659 713h1v66h-1zM2664 699h1v39h-1zM2689 744h1v36h-1zM2694 740h1v49h-1zM2704 757h1v36h-1zM2709 734h1v31h-1zM2714 720h1v21h-1zM2724 692h1v43h-1zM2729 679h1v21h-1zM2739 710h1v21h-1zM2759 720h1v33h-1zM2769 734h1v17h-1zM2784 762h1v57h-1zM2789 746h1v29h-1zM2794 744h1v17h-1zM2799 734h1v13h-1zM2829 781h1v9h-1zM2834 762h1v21h-1zM2839 757h1v13h-1zM2854 822h1v38h-1zM2859 808h1v23h-1zM2864 770h1v59h-1zM2869 753h1v31h-1zM2884 781h1v37h-1zM2894 835h1v15h-1zM2899 835h1v35h-1zM2909 853h1v29h-1zM2914 845h1v11h-1zM2919 838h1v21h-1zM2929 838h1v24h-1zM2934 842h1v18h-1zM2939 805h1v48h-1zM2954 823h1v20h-1zM2959 795h1v35h-1zM2964 785h1v45h-1zM2974 786h1v33h-1zM2994 808h1v78h-1zM3004 781h1v100h-1zM3009 716h1v74h-1zM3019 760h1v66h-1zM3029 714h1v78h-1zM3034 686h1v63h-1zM3039 669h1v34h-1zM3044 655h1v35h-1zM3049 653h1v38h-1zM3053 650h1v39h-1zM3058 602h1v61h-1zM3063 591h1v43h-1zM3073 632h1v31h-1zM3083 650h1v64h-1zM3093 659h1v68h-1zM3098 638h1v49h-1zM3103 623h1v57h-1zM3118 721h1v71h-1zM3143 878h1v49h-1zM3158 948h1v51h-1zM3168 951h1v29h-1zM3173 922h1v39h-1zM3183 931h1v53h-1zM3193 893h1v55h-1z"/>
<path fill="#5b9cf6" d="M79 1039h3v20h-3zM89 1060h3v10h-3zM99 1114h3v4h-3zM104 1094h3v21h-3zM109 1027h3v67h-3zM119 970h3v87h-3zM124 925h3v45h-3zM129 920h3v5h-3zM149 1010h3v35h-3zM159 1034h3v36h-3zM164 1027h3v7h-3zM174 1015h3v49h-3zM179 978h3v37h-3zM184 943h3v36h-3zM194 942h3v9h-3zM199 910h3v32h-3zM204 879h3v31h-3zM209 818h3v61h-3zM214 816h3v3h-3zM219 770h3v47h-3zM234 743h3v107h-3zM249 814h3v24h-3zM254 789h3v25h-3zM274 803h3v88h-3zM284 762h3v51h-3zM289 715h3v48h-3zM294 687h3v30h-3zM299 631h3v57h-3zM304 631h3v2h-3zM319 673h3v14h-3zM334 705h3v24h-3zM349 747h3v1h-3zM354 728h3v19h-3zM394 748h3v12h-3zM399 747h3v2h-3zM409 735h3v23h-3zM428 747h3v3h-3zM433 729h3v19h-3zM438 723h3v6h-3zM443 715h3v9h-3zM448 676h3v40h-3zM453 630h3v47h-3zM463 597h3v56h-3zM468 557h3v40h-3zM473 551h3v6h-3zM478 524h3v28h-3zM483 506h3v18h-3zM498 468h3v56h-3zM503 421h3v48h-3zM518 391h3v59h-3zM523 380h3v10h-3zM528 335h3v45h-3zM533 298h3v37h-3zM548 378h3v14h-3zM553 360h3v19h-3zM558 315h3v45h-3zM568 323h3v24h-3zM573 302h3v22h-3zM593 324h3v32h-3zM603 307h3v62h-3zM618 296h3v36h-3zM623 242h3v55h-3zM628 238h3v4h-3zM638 259h3v28h-3zM643 182h3v77h-3zM648 182h3v1h-3zM663 249h3v19h-3zM668 234h3v16h-3zM718 386h3v18h-3zM723 290h3v96h-3zM743 408h3v105h-3zM773 517h3v16h-3zM778 508h3v9h-3zM783 485h3v24h-3zM788 455h3v30h-3zM793 430h3v25h-3zM798 429h3v2h-3zM808 406h3v39h-3zM813 404h3v2h-3zM838 492h3v5h-3zM843 486h3v7h-3zM863 527h3v1h-3zM867 527h3v1h-3zM877 530h3v7h-3zM887 519h3v24h-3zM892 501h3v19h-3zM897 491h3v11h-3zM927 505h3v30h-3zM937 529h3v6h-3zM942 498h3v32h-3zM947 447h3v51h-3zM952 398h3v50h-3zM957 384h3v15h-3zM977 467h3v18h-3zM987 445h3v23h-3zM992 409h3v36h-3zM997 404h3v5h-3zM1007 373h3v34h-3zM1012 354h3v20h-3zM1017 352h3v3h-3zM1022 336h3v17h-3zM1082 604h3v63h-3zM1087 599h3v6h-3zM1092 558h3v41h-3zM1107 580h3v6h-3zM1117 599h3v12h-3zM1132 578h3v53h-3zM1137 551h3v28h-3zM1142 509h3v42h-3zM1147 494h3v16h-3zM1157 547h3v19h-3zM1167 611h3v9h-3zM1172 527h3v85h-3zM1177 453h3v75h-3zM1187 426h3v34h-3zM1197 407h3v42h-3zM1202 366h3v42h-3zM1212 366h3v30h-3zM1222 373h3v11h-3zM1237 404h3v5h-3zM1247 389h3v28h-3zM1252 348h3v42h-3zM1257 317h3v35h-3zM1262 282h3v35h-3zM1277 289h3v34h-3zM1287 288h3v30h-3zM1297 276h3v24h-3zM1316 322h3v2h-3zM1321 322h3v1h-3zM1346 347h3v20h-3zM1356 360h3v7h-3zM1361 360h3v1h-3zM1366 327h3v34h-3zM1376 314h3v23h-3zM1391 305h3v21h-3zM1396 283h3v22h-3zM1406 309h3v12h-3zM1411 282h3v28h-3zM1421 277h3v8h-3zM1436 222h3v66h-3zM1446 209h3v24h-3zM1451 199h3v10h-3zM1456 185h3v15h-3zM1466 191h3v19h-3zM1481 197h3v16h-3zM1506 314h3v16h-3zM1516 345h3v2h-3zM1521 325h3v21h-3zM1526 294h3v31h-3zM1551 424h3v31h-3zM1556 394h3v31h-3zM1576 434h3v56h-3zM1581 426h3v9h-3zM1596 439h3v16h-3zM1601 431h3v8h-3zM1606 425h3v7h-3zM1616 454h3v9h-3zM1621 443h3v12h-3zM1636 426h3v29h-3zM1641 425h3v1h-3zM1651 471h3v5h-3zM1656 401h3v71h-3zM1666 404h3v11h-3zM1681 399h3v17h-3zM1686 362h3v38h-3zM1696 405h3v48h-3zM1701 393h3v13h-3zM1716 430h3v20h-3zM1721 429h3v1h-3zM1750 457h3v50h-3zM1775 609h3v15h-3zM1780 608h3v1h-3zM1790 621h3v2h-3zM1805 626h3v2h-3zM1815 616h3v20h-3zM1830 626h3v4h-3zM1835 607h3v20h-3zM1840 597h3v9h-3zM1850 604h3v3h-3zM1860 603h3v4h-3zM1865 592h3v11h-3zM1875 605h3v4h-3zM1880 600h3v8h-3zM1885 598h3v3h-3zM1890 587h3v13h-3zM1895 583h3v5h-3zM1905 561h3v29h-3zM1910 561h3v2h-3zM1915 537h3v24h-3zM1935 562h3v25h-3zM1945 564h3v2h-3zM1950 558h3v7h-3zM1965 557h3v18h-3zM1985 575h3v12h-3zM1995 569h3v11h-3zM2010 523h3v66h-3zM2015 507h3v17h-3zM2020 481h3v27h-3zM2025 468h3v14h-3zM2030 452h3v17h-3zM2035 414h3v39h-3zM2045 410h3v16h-3zM2055 419h3v11h-3zM2075 469h3v28h-3zM2080 424h3v45h-3zM2090 421h3v6h-3zM2105 421h3v59h-3zM2115 444h3v12h-3zM2135 510h3v42h-3zM2140 473h3v37h-3zM2150 481h3v21h-3zM2155 392h3v90h-3zM2165 366h3v32h-3zM2170 347h3v20h-3zM2179 389h3v25h-3zM2199 525h3v7h-3zM2209 546h3v60h-3zM2214 544h3v3h-3zM2219 523h3v21h-3zM2234 558h3v33h-3zM2239 544h3v15h-3zM2244 514h3v30h-3zM2249 490h3v25h-3zM2254 461h3v30h-3zM2269 450h3v45h-3zM2274 426h3v25h-3zM2279 413h3v14h-3zM2289 426h3v9h-3zM2294 420h3v7h-3zM2299 398h3v22h-3zM2304 460h3v6h-3zM2309 439h3v22h-3zM2324 424h3v52h-3zM2334 416h3v24h-3zM2339 401h3v15h-3zM2359 454h3v32h-3zM2364 386h3v68h-3zM2374 399h3v8h-3zM2379 390h3v10h-3zM2394 415h3v20h-3zM2404 398h3v19h-3zM2414 398h3v8h-3zM2419 358h3v41h-3zM2424 271h3v88h-3zM2429 217h3v54h-3zM2434 216h3v2h-3zM2439 205h3v11h-3zM2459 244h3v5h-3zM2474 264h3v4h-3zM2484 264h3v10h-3zM2509 318h3v87h-3zM2514 215h3v103h-3zM2529 280h3v12h-3zM2539 347h3v31h-3zM2559 579h3v1h-3zM2574 627h3v16h-3zM2579 610h3v18h-3zM2584 603h3v8h-3zM2599 772h3v20h-3zM2609 823h3v1h-3zM2623 772h3v131h-3zM2628 735h3v37h-3zM2638 732h3v34h-3zM2648 723h3v21h-3zM2658 719h3v31h-3zM2663 709h3v10h-3zM2688 779h3v1h-3zM2693 779h3v1h-3zM2703 760h3v32h-3zM2708 739h3v21h-3zM2713 729h3v10h-3zM2723 699h3v36h-3zM2728 683h3v16h-3zM2738 721h3v1h-3zM2758 725h3v26h-3zM2768 741h3v9h-3zM2783 771h3v14h-3zM2788 760h3v12h-3zM2793 745h3v15h-3zM2798 742h3v4h-3zM2828 782h3v6h-3zM2833 764h3v18h-3zM2838 762h3v3h-3zM2853 828h3v22h-3zM2858 809h3v20h-3zM2863 781h3v29h-3zM2868 775h3v6h-3zM2883 781h3v32h-3zM2893 838h3v2h-3zM2898 836h3v3h-3zM2908 853h3v11h-3zM2913 853h3v1h-3zM2918 842h3v11h-3zM2928 850h3v2h-3zM2933 843h3v7h-3zM2938 808h3v35h-3zM2953 828h3v6h-3zM2958 823h3v6h-3zM2963 803h3v21h-3zM2973 787h3v26h-3zM2993 837h3v45h-3zM3003 788h3v82h-3zM3008 764h3v25h-3zM3018 762h3v43h-3zM3028 722h3v44h-3zM3033 694h3v28h-3zM3038 685h3v10h-3zM3043 667h3v19h-3zM3048 659h3v8h-3zM3052 658h3v2h-3zM3057 624h3v35h-3zM3062 599h3v25h-3zM3072 642h3v20h-3zM3082 666h3v22h-3zM3092 686h3v33h-3zM3097 669h3v17h-3zM3102 660h3v9h-3zM3117 739h3v35h-3zM3142 903h3v17h-3zM3157 951h3v32h-3zM3167 959h3v12h-3zM3172 948h3v11h-3zM3182 932h3v50h-3zM3192 907h3v37h-3z"/>
<path fill="#ffa726" d="M85 1034h1v40h-1zM95 1057h1v61h-1zM115 1023h1v43h-1zM135 920h1v76h-1zM140 966h1v82h-1zM145 1008h1v37h-1zM155 996h1v81h-1zM170 1019h1v65h-1zM190 919h1v47h-1zM225 770h1v88h-1zM230 827h1v58h-1zM240 717h1v70h-1zM245 752h1v136h-1zM260 751h1v95h-1zM265 804h1v49h-1zM270 832h1v96h-1zM280 791h1v39h-1zM310 624h1v38h-1zM315 659h1v41h-1zM325 673h1v59h-1zM330 700h1v29h-1zM340 701h1v42h-1zM345 726h1v21h-1zM360 724h1v21h-1zM365 716h1v36h-1zM370 736h1v17h-1zM375 743h1v11h-1zM380 749h1v8h-1zM385 732h1v24h-1zM390 729h1v31h-1zM405 741h1v17h-1zM415 733h1v14h-1zM420 739h1v12h-1zM425 744h1v7h-1zM459 626h1v33h-1zM489 505h1v27h-1zM494 515h1v28h-1zM509 419h1v33h-1zM514 434h1v18h-1zM539 295h1v39h-1zM544 317h1v79h-1zM564 289h1v58h-1zM579 268h1v63h-1zM584 300h1v82h-1zM589 305h1v74h-1zM599 318h1v79h-1zM609 283h1v53h-1zM614 291h1v60h-1zM634 220h1v78h-1zM654 165h1v65h-1zM659 187h1v88h-1zM674 231h1v46h-1zM679 262h1v40h-1zM684 262h1v36h-1zM689 272h1v32h-1zM694 293h1v73h-1zM699 320h1v63h-1zM704 347h1v44h-1zM709 347h1v56h-1zM714 373h1v59h-1zM729 266h1v55h-1zM734 292h1v34h-1zM739 317h1v216h-1zM749 394h1v75h-1zM754 448h1v37h-1zM759 446h1v77h-1zM764 498h1v48h-1zM769 502h1v42h-1zM804 421h1v35h-1zM819 401h1v48h-1zM824 430h1v30h-1zM829 445h1v35h-1zM834 472h1v44h-1zM849 485h1v32h-1zM854 486h1v34h-1zM859 510h1v20h-1zM873 518h1v20h-1zM883 526h1v17h-1zM903 484h1v13h-1zM908 491h1v24h-1zM913 510h1v31h-1zM918 523h1v12h-1zM923 525h1v17h-1zM933 504h1v57h-1zM963 382h1v53h-1zM968 413h1v55h-1zM973 460h1v35h-1zM983 461h1v18h-1zM1003 389h1v31h-1zM1028 322h1v17h-1zM1033 331h1v52h-1zM1038 367h1v32h-1zM1043 367h1v35h-1zM1048 382h1v53h-1zM1053 406h1v41h-1zM1058 429h1v37h-1zM1063 442h1v43h-1zM1068 443h1v127h-1zM1073 527h1v80h-1zM1078 595h1v84h-1zM1098 544h1v41h-1zM1103 550h1v59h-1zM1113 567h1v44h-1zM1123 578h1v42h-1zM1128 592h1v40h-1zM1153 494h1v80h-1zM1163 541h1v85h-1zM1183 417h1v46h-1zM1193 424h1v45h-1zM1208 362h1v57h-1zM1218 346h1v58h-1zM1228 354h1v53h-1zM1233 370h1v47h-1zM1243 383h1v43h-1zM1268 266h1v57h-1zM1273 293h1v50h-1zM1283 282h1v58h-1zM1293 281h1v25h-1zM1303 265h1v38h-1zM1307 273h1v48h-1zM1312 315h1v28h-1zM1327 319h1v26h-1zM1332 333h1v20h-1zM1337 343h1v24h-1zM1342 337h1v31h-1zM1352 340h1v26h-1zM1372 315h1v27h-1zM1382 314h1v11h-1zM1387 318h1v12h-1zM1402 277h1v46h-1zM1417 280h1v32h-1zM1427 268h1v27h-1zM1432 267h1v30h-1zM1442 222h1v23h-1zM1462 183h1v30h-1zM1472 189h1v18h-1zM1477 194h1v25h-1zM1487 192h1v91h-1zM1492 278h1v26h-1zM1497 282h1v42h-1zM1502 314h1v26h-1zM1512 314h1v42h-1zM1532 276h1v35h-1zM1537 307h1v30h-1zM1542 311h1v81h-1zM1547 373h1v87h-1zM1562 389h1v93h-1zM1567 428h1v75h-1zM1572 459h1v48h-1zM1587 418h1v30h-1zM1592 437h1v31h-1zM1612 423h1v59h-1zM1627 425h1v34h-1zM1632 419h1v38h-1zM1647 423h1v112h-1zM1662 335h1v107h-1zM1672 384h1v55h-1zM1677 363h1v61h-1zM1692 347h1v108h-1zM1707 381h1v76h-1zM1712 405h1v57h-1zM1727 411h1v83h-1zM1732 457h1v32h-1zM1737 473h1v22h-1zM1741 470h1v37h-1zM1746 486h1v50h-1zM1756 449h1v74h-1zM1761 516h1v71h-1zM1766 575h1v21h-1zM1771 569h1v60h-1zM1786 599h1v28h-1zM1796 607h1v31h-1zM1801 604h1v41h-1zM1811 615h1v29h-1zM1821 600h1v25h-1zM1826 621h1v24h-1zM1846 596h1v17h-1zM1856 600h1v7h-1zM1871 588h1v23h-1zM1901 581h1v55h-1zM1921 537h1v29h-1zM1926 549h1v28h-1zM1931 558h1v29h-1zM1941 554h1v29h-1zM1956 552h1v25h-1zM1961 570h1v20h-1zM1971 557h1v10h-1zM1976 560h1v15h-1zM1981 563h1v38h-1zM1991 573h1v19h-1zM2001 557h1v37h-1zM2006 577h1v33h-1zM2041 394h1v43h-1zM2051 380h1v60h-1zM2061 418h1v38h-1zM2066 432h1v62h-1zM2071 474h1v37h-1zM2086 413h1v30h-1zM2096 415h1v54h-1zM2101 436h1v49h-1zM2111 405h1v52h-1zM2121 435h1v102h-1zM2126 534h1v37h-1zM2131 536h1v67h-1zM2146 467h1v48h-1zM2161 376h1v52h-1zM2176 343h1v95h-1zM2185 288h1v128h-1zM2190 378h1v210h-1zM2195 489h1v103h-1zM2205 522h1v107h-1zM2225 509h1v74h-1zM2230 575h1v32h-1zM2260 460h1v29h-1zM2265 473h1v22h-1zM2285 407h1v32h-1zM2315 439h1v15h-1zM2320 445h1v33h-1zM2330 422h1v19h-1zM2345 399h1v33h-1zM2350 427h1v25h-1zM2355 438h1v52h-1zM2370 382h1v31h-1zM2385 377h1v27h-1zM2390 397h1v45h-1zM2400 411h1v40h-1zM2410 387h1v20h-1zM2445 194h1v14h-1zM2450 203h1v34h-1zM2455 222h1v38h-1zM2465 244h1v19h-1zM2470 249h1v30h-1zM2480 246h1v46h-1zM2490 261h1v58h-1zM2495 300h1v66h-1zM2500 355h1v68h-1zM2505 361h1v75h-1zM2520 201h1v69h-1zM2525 244h1v57h-1zM2535 279h1v100h-1zM2545 347h1v67h-1zM2550 408h1v145h-1zM2555 538h1v78h-1zM2565 575h1v75h-1zM2570 614h1v40h-1zM2590 580h1v55h-1zM2595 617h1v180h-1zM2605 755h1v74h-1zM2615 806h1v103h-1zM2619 887h1v58h-1zM2634 716h1v62h-1zM2644 724h1v56h-1zM2654 706h1v46h-1zM2669 698h1v31h-1zM2674 706h1v35h-1zM2679 711h1v37h-1zM2684 747h1v53h-1zM2699 774h1v21h-1zM2719 723h1v16h-1zM2734 680h1v43h-1zM2744 716h1v24h-1zM2749 737h1v35h-1zM2754 748h1v10h-1zM2764 725h1v32h-1zM2774 740h1v11h-1zM2779 740h1v46h-1zM2804 728h1v21h-1zM2809 734h1v14h-1zM2814 744h1v12h-1zM2819 748h1v26h-1zM2824 768h1v21h-1zM2844 748h1v56h-1zM2849 787h1v68h-1zM2874 774h1v41h-1zM2879 781h1v37h-1zM2889 777h1v69h-1zM2904 835h1v30h-1zM2924 824h1v32h-1zM2944 807h1v27h-1zM2949 817h1v27h-1zM2969 784h1v41h-1zM2979 787h1v47h-1zM2984 786h1v109h-1zM2989 817h1v92h-1zM2999 834h1v61h-1zM3014 745h1v72h-1zM3024 725h1v56h-1zM3068 595h1v76h-1zM3078 627h1v62h-1zM3088 646h1v92h-1zM3108 655h1v81h-1zM3113 716h1v117h-1zM3123 724h1v87h-1zM3128 775h1v42h-1zM3133 805h1v37h-1zM3138 806h1v139h-1zM3148 888h1v47h-1zM3153 904h1v99h-1zM3163 947h1v49h-1zM3178 948h1v49h-1zM3188 922h1v22h-1zM3198 898h1v24h-1z"/>
<path fill="#ffb74d" d="M84 1039h3v31h-3zM94 1060h3v58h-3zM114 1031h3v26h-3zM134 920h3v59h-3zM139 970h3v53h-3zM144 1023h3v22h-3zM154 1010h3v60h-3zM169 1027h3v37h-3zM189 943h3v8h-3zM224 770h3v66h-3zM229 836h3v14h-3zM239 743h3v9h-3zM244 752h3v86h-3zM259 789h3v38h-3zM264 827h3v6h-3zM269 833h3v58h-3zM279 803h3v10h-3zM309 631h3v29h-3zM314 660h3v27h-3zM324 673h3v48h-3zM329 720h3v9h-3zM339 705h3v27h-3zM344 731h3v16h-3zM359 728h3v2h-3zM364 730h3v10h-3zM369 740h3v7h-3zM374 747h3v3h-3zM379 750h3v2h-3zM384 751h3v3h-3zM389 754h3v4h-3zM404 746h3v12h-3zM414 735h3v11h-3zM419 746h3v4h-3zM424 749h3v2h-3zM458 630h3v22h-3zM488 506h3v10h-3zM493 516h3v8h-3zM508 421h3v14h-3zM513 435h3v15h-3zM538 298h3v32h-3zM543 329h3v63h-3zM563 315h3v32h-3zM578 302h3v3h-3zM583 304h3v29h-3zM588 333h3v23h-3zM598 324h3v45h-3zM608 307h3v2h-3zM613 308h3v24h-3zM633 238h3v48h-3zM653 182h3v35h-3zM658 216h3v52h-3zM673 234h3v38h-3zM678 272h3v4h-3zM683 275h3v3h-3zM688 277h3v17h-3zM693 294h3v59h-3zM698 352h3v3h-3zM703 354h3v36h-3zM708 389h3v13h-3zM713 400h3v4h-3zM728 290h3v13h-3zM733 302h3v21h-3zM738 323h3v189h-3zM748 408h3v44h-3zM753 449h3v11h-3zM758 459h3v45h-3zM763 503h3v27h-3zM768 529h3v4h-3zM803 429h3v16h-3zM818 404h3v33h-3zM823 437h3v11h-3zM828 447h3v25h-3zM833 472h3v25h-3zM848 486h3v6h-3zM853 491h3v20h-3zM858 510h3v18h-3zM872 527h3v10h-3zM882 530h3v13h-3zM902 491h3v6h-3zM907 496h3v15h-3zM912 511h3v19h-3zM917 530h3v2h-3zM922 531h3v4h-3zM932 505h3v30h-3zM962 384h3v39h-3zM967 423h3v45h-3zM972 468h3v17h-3zM982 467h3v1h-3zM1002 404h3v3h-3zM1027 336h3v2h-3zM1032 337h3v31h-3zM1037 368h3v27h-3zM1042 393h3v5h-3zM1047 396h3v16h-3zM1052 411h3v28h-3zM1057 439h3v10h-3zM1062 449h3v9h-3zM1067 458h3v99h-3zM1072 556h3v40h-3zM1077 596h3v70h-3zM1097 558h3v3h-3zM1102 561h3v25h-3zM1112 580h3v31h-3zM1122 599h3v1h-3zM1127 600h3v31h-3zM1152 494h3v72h-3zM1162 547h3v73h-3zM1182 453h3v7h-3zM1192 426h3v23h-3zM1207 366h3v30h-3zM1217 366h3v18h-3zM1227 373h3v17h-3zM1232 390h3v19h-3zM1242 403h3v14h-3zM1267 282h3v20h-3zM1272 302h3v21h-3zM1282 289h3v29h-3zM1292 288h3v12h-3zM1302 276h3v13h-3zM1306 289h3v30h-3zM1311 318h3v6h-3zM1326 322h3v12h-3zM1331 334h3v18h-3zM1336 352h3v6h-3zM1341 357h3v10h-3zM1351 347h3v19h-3zM1371 327h3v10h-3zM1381 314h3v11h-3zM1386 325h3v1h-3zM1401 283h3v38h-3zM1416 281h3v4h-3zM1426 277h3v7h-3zM1431 283h3v4h-3zM1441 222h3v11h-3zM1461 185h3v25h-3zM1471 191h3v9h-3zM1476 199h3v14h-3zM1486 197h3v86h-3zM1491 282h3v16h-3zM1496 297h3v17h-3zM1501 314h3v16h-3zM1511 314h3v33h-3zM1531 294h3v14h-3zM1536 308h3v17h-3zM1541 324h3v51h-3zM1546 374h3v81h-3zM1561 394h3v43h-3zM1566 436h3v24h-3zM1571 460h3v30h-3zM1586 426h3v20h-3zM1591 446h3v9h-3zM1611 425h3v38h-3zM1626 435h3v9h-3zM1631 434h3v21h-3zM1646 425h3v51h-3zM1661 401h3v14h-3zM1671 404h3v7h-3zM1676 410h3v6h-3zM1691 362h3v91h-3zM1706 393h3v53h-3zM1711 446h3v4h-3zM1726 429h3v36h-3zM1731 464h3v17h-3zM1736 480h3v4h-3zM1740 483h3v4h-3zM1745 486h3v21h-3zM1755 457h3v64h-3zM1760 519h3v63h-3zM1765 581h3v5h-3zM1770 585h3v39h-3zM1785 608h3v15h-3zM1795 621h3v2h-3zM1800 622h3v5h-3zM1810 626h3v10h-3zM1820 617h3v6h-3zM1825 623h3v7h-3zM1845 597h3v8h-3zM1855 604h3v2h-3zM1870 593h3v12h-3zM1900 583h3v7h-3zM1920 537h3v18h-3zM1925 554h3v21h-3zM1930 574h3v13h-3zM1940 563h3v2h-3zM1955 558h3v16h-3zM1960 571h3v4h-3zM1970 557h3v6h-3zM1975 561h3v4h-3zM1980 564h3v23h-3zM1990 575h3v4h-3zM2000 569h3v10h-3zM2005 578h3v11h-3zM2040 414h3v12h-3zM2050 410h3v19h-3zM2060 419h3v17h-3zM2065 436h3v40h-3zM2070 476h3v21h-3zM2085 424h3v3h-3zM2095 421h3v20h-3zM2100 441h3v39h-3zM2110 421h3v35h-3zM2120 444h3v93h-3zM2125 535h3v13h-3zM2130 547h3v5h-3zM2145 473h3v29h-3zM2160 392h3v6h-3zM2175 347h3v67h-3zM2184 389h3v21h-3zM2189 410h3v85h-3zM2194 494h3v38h-3zM2204 525h3v81h-3zM2224 523h3v57h-3zM2229 579h3v12h-3zM2259 461h3v22h-3zM2264 482h3v13h-3zM2284 413h3v22h-3zM2314 439h3v14h-3zM2319 453h3v23h-3zM2329 424h3v16h-3zM2344 401h3v29h-3zM2349 429h3v21h-3zM2354 450h3v36h-3zM2369 386h3v21h-3zM2384 390h3v8h-3zM2389 397h3v38h-3zM2399 416h3v2h-3zM2409 398h3v7h-3zM2444 205h3v2h-3zM2449 206h3v17h-3zM2454 222h3v27h-3zM2464 244h3v13h-3zM2469 257h3v11h-3zM2479 264h3v10h-3zM2489 264h3v51h-3zM2494 315h3v50h-3zM2499 364h3v33h-3zM2504 396h3v9h-3zM2519 215h3v46h-3zM2524 261h3v31h-3zM2534 280h3v98h-3zM2544 347h3v63h-3zM2549 410h3v128h-3zM2554 538h3v42h-3zM2564 579h3v37h-3zM2569 616h3v27h-3zM2589 603h3v22h-3zM2594 625h3v167h-3zM2604 772h3v51h-3zM2614 823h3v76h-3zM2618 899h3v4h-3zM2633 735h3v31h-3zM2643 732h3v12h-3zM2653 723h3v27h-3zM2668 709h3v2h-3zM2673 710h3v31h-3zM2678 741h3v7h-3zM2683 747h3v34h-3zM2698 781h3v12h-3zM2718 729h3v6h-3zM2733 683h3v39h-3zM2743 722h3v17h-3zM2748 739h3v10h-3zM2753 749h3v2h-3zM2763 725h3v25h-3zM2773 741h3v4h-3zM2778 745h3v40h-3zM2803 742h3v2h-3zM2808 743h3v4h-3zM2813 746h3v9h-3zM2818 754h3v18h-3zM2823 772h3v16h-3zM2843 762h3v37h-3zM2848 798h3v52h-3zM2873 775h3v35h-3zM2878 809h3v4h-3zM2888 781h3v59h-3zM2903 836h3v28h-3zM2923 842h3v9h-3zM2943 808h3v22h-3zM2948 829h3v5h-3zM2968 803h3v10h-3zM2978 787h3v16h-3zM2983 803h3v15h-3zM2988 818h3v64h-3zM2998 836h3v34h-3zM3013 764h3v41h-3zM3023 762h3v4h-3zM3067 599h3v63h-3zM3077 642h3v46h-3zM3087 666h3v53h-3zM3107 660h3v61h-3zM3112 720h3v54h-3zM3122 739h3v49h-3zM3127 788h3v17h-3zM3132 805h3v21h-3zM3137 825h3v95h-3zM3147 903h3v6h-3zM3152 908h3v75h-3zM3162 951h3v20h-3zM3177 948h3v34h-3zM3187 932h3v12h-3zM3197 907h3v4h-3z"/>
</g>
<path d="M81 1459.5H3199M81 1674.5H3199" stroke="#d46363" stroke-width="1" stroke-dasharray="5 6" fill="none"/>
<path d="M80.5 1566.5H3199" stroke="rgba(70,150,130,0.55)" stroke-width="1.3" fill="none"/>
<polyline points="80,1780.7 85,1781.5 90,1720.0 95,1746.4 100,1746.1 105,1719.2 110,1613.0 115,1588.8 120,1383.8 125,1343.9 130,1352.1 135,1384.9 140,1398.7 145,1434.1 150,1478.8 155,1566.4 160,1601.8 165,1637.2 170,1705.4 175,1708.0 180,1635.4 185,1566.4 190,1478.8 195,1380.0 200,1370.7 205,1354.0 210,1328.6 215,1344.6 220,1340.9 225,1361.4 230,1370.0 235,1375.2 240,1368.9 245,1410.6 250,1402.4 255,1392.3 260,1463.9 265,1586.9 270,1654.7 275,1654.0 280,1673.7 285,1627.9 290,1545.9 295,1351.3 300,1342.8 305,1324.9 310,1334.2 315,1342.0 320,1328.6 325,1368.9 330,1434.1 335,1463.9 340,1545.9 345,1661.4 350,1785.6 355,1766.9 360,1778.9 365,1780.0 370,1756.5 375,1734.9 380,1739.7 385,1770.7 390,1791.9 395,1800.1 400,1768.8 405,1788.9 410,1716.6 415,1706.2 420,1708.8 425,1714.7 429,1635.4 434,1545.9 439,1437.8 444,1374.5 449,1328.6 454,1306.2 459,1340.2 464,1322.3 469,1311.1 474,1311.8 479,1324.1 484,1327.1 489,1332.3 494,1339.8 499,1347.2 504,1335.3 509,1323.0 514,1325.3 519,1321.5 524,1318.5 529,1318.5 534,1309.2 539,1319.7 544,1362.5 549,1368.9 554,1390.5 559,1411.7 564,1437.1 569,1398.7 574,1386.4 579,1422.9 584,1478.8 589,1531.7 594,1531.7 599,1590.6 604,1573.9 609,1547.8 614,1523.5 619,1497.4 624,1397.9 629,1385.6 634,1409.9 639,1389.4 644,1393.1 649,1391.2 654,1404.3 659,1415.5 664,1427.4 669,1497.4 674,1562.7 679,1611.1 684,1633.5 689,1722.9 694,1778.9 699,1769.5 704,1786.3 709,1802.3 714,1794.5 719,1787.0 724,1724.8 729,1665.2 734,1599.2 739,1693.9 744,1630.9 749,1693.1 754,1708.0 759,1720.3 764,1704.3 769,1784.4 774,1783.7 779,1785.2 784,1783.7 789,1737.9 794,1680.1 799,1601.8 804,1521.7 809,1340.9 814,1328.6 819,1354.0 824,1368.9 829,1383.8 834,1478.8 839,1594.4 844,1753.5 849,1753.9 854,1753.9 859,1769.5 864,1777.0 868,1773.3 873,1801.2 878,1800.5 883,1796.4 888,1758.4 893,1657.7 898,1566.4 903,1521.7 908,1421.8 913,1450.9 918,1516.1 923,1602.6 928,1550.4 933,1581.3 938,1560.8 943,1499.3 948,1389.4 953,1373.7 958,1342.0 963,1361.4 968,1381.2 973,1394.2 978,1441.5 983,1508.6 988,1545.2 993,1522.4 998,1500.4 1003,1483.7 1008,1368.9 1013,1323.4 1018,1324.1 1023,1321.5 1028,1320.4 1033,1344.6 1038,1376.3 1043,1422.9 1048,1545.9 1053,1695.0 1058,1763.9 1063,1756.5 1068,1777.0 1073,1793.8 1078,1800.5 1083,1788.2 1088,1794.9 1093,1777.0 1098,1760.2 1103,1709.9 1108,1693.1 1113,1680.8 1118,1679.3 1123,1670.8 1128,1683.1 1133,1620.4 1138,1527.3 1143,1434.1 1148,1401.7 1153,1414.7 1158,1412.8 1163,1508.6 1168,1596.2 1173,1593.6 1178,1445.3 1183,1415.5 1188,1367.7 1193,1358.4 1198,1362.2 1203,1353.2 1208,1344.6 1213,1344.6 1218,1347.2 1223,1354.7 1228,1381.2 1233,1393.1 1238,1436.0 1243,1480.7 1248,1522.8 1253,1514.2 1258,1445.3 1263,1422.9 1268,1422.2 1273,1421.0 1278,1420.7 1283,1420.3 1288,1424.8 1293,1427.4 1298,1395.0 1303,1405.4 1307,1408.0 1312,1478.8 1317,1560.8 1322,1665.2 1327,1703.2 1332,1690.5 1337,1704.3 1342,1737.9 1347,1780.7 1352,1807.9 1357,1782.6 1362,1782.6 1367,1708.0 1372,1646.5 1377,1508.6 1382,1424.8 1387,1406.1 1392,1384.9 1397,1336.1 1402,1406.9 1407,1418.4 1412,1397.9 1417,1394.2 1422,1397.6 1427,1392.0 1432,1394.2 1437,1387.5 1442,1386.8 1447,1368.9 1452,1351.3 1457,1331.6 1462,1340.2 1467,1350.2 1472,1352.1 1477,1367.0 1482,1383.8 1487,1545.9 1492,1732.3 1497,1799.3 1502,1800.8 1507,1799.3 1512,1795.6 1517,1790.0 1522,1780.7 1527,1732.3 1532,1722.9 1537,1686.4 1542,1717.4 1547,1760.2 1552,1761.3 1557,1731.1 1562,1727.4 1567,1725.9 1572,1715.5 1577,1718.1 1582,1726.7 1587,1733.4 1592,1713.6 1597,1648.4 1602,1625.3 1607,1601.8 1612,1562.7 1617,1501.2 1622,1506.8 1627,1506.0 1632,1559.7 1637,1529.1 1642,1501.9 1647,1570.1 1652,1598.1 1657,1515.0 1662,1552.6 1667,1529.1 1672,1476.9 1677,1476.6 1682,1480.7 1687,1424.8 1692,1475.1 1697,1471.4 1702,1466.9 1707,1510.5 1712,1605.5 1717,1631.6 1722,1680.1 1727,1735.2 1732,1731.5 1737,1731.1 1741,1758.4 1746,1756.5 1751,1739.7 1756,1745.3 1761,1758.4 1766,1770.3 1771,1782.6 1776,1811.3 1781,1804.2 1786,1802.3 1791,1803.8 1796,1794.5 1801,1793.8 1806,1796.4 1811,1786.3 1816,1765.8 1821,1750.2 1826,1724.1 1831,1689.4 1836,1665.2 1841,1624.2 1846,1612.2 1851,1566.4 1856,1371.5 1861,1364.4 1866,1348.4 1871,1380.0 1876,1411.0 1881,1417.3 1886,1462.0 1891,1437.8 1896,1430.4 1901,1461.3 1906,1432.2 1911,1406.9 1916,1400.5 1921,1397.6 1926,1410.6 1931,1425.9 1936,1428.5 1941,1484.4 1946,1503.0 1951,1493.0 1956,1490.0 1961,1542.2 1966,1550.7 1971,1601.1 1976,1622.3 1981,1643.9 1986,1610.4 1991,1626.0 1996,1599.9 2001,1610.0 2006,1603.7 2011,1465.8 2016,1424.8 2021,1402.4 2026,1388.6 2031,1381.2 2036,1373.7 2041,1377.1 2046,1370.7 2051,1374.5 2056,1370.0 2061,1382.7 2066,1415.5 2071,1478.8 2076,1560.8 2081,1668.9 2086,1694.2 2091,1627.9 2096,1564.5 2101,1577.6 2106,1543.3 2111,1548.9 2116,1534.7 2121,1687.5 2126,1708.0 2131,1727.8 2136,1715.5 2141,1703.2 2146,1681.9 2151,1633.5 2156,1516.1 2161,1384.9 2166,1370.7 2171,1354.0 2176,1370.7 2180,1375.6 2185,1434.1 2190,1523.5 2195,1627.9 2200,1687.5 2205,1715.5 2210,1711.0 2215,1743.4 2220,1749.8 2225,1775.1 2230,1753.9 2235,1755.7 2240,1745.3 2245,1736.0 2250,1668.9 2255,1545.9 2260,1348.4 2265,1351.3 2270,1347.2 2275,1349.1 2280,1345.8 2285,1338.3 2290,1326.0 2295,1324.1 2300,1326.0 2305,1340.9 2310,1329.0 2315,1317.4 2320,1346.5 2325,1499.3 2330,1509.7 2335,1471.4 2340,1425.9 2345,1436.0 2350,1463.9 2355,1557.1 2360,1604.8 2365,1449.0 2370,1437.8 2375,1437.1 2380,1422.2 2385,1424.0 2390,1486.3 2395,1499.3 2400,1517.9 2405,1536.6 2410,1556.3 2415,1536.6 2420,1441.5 2425,1331.6 2430,1323.0 2435,1316.7 2440,1316.3 2445,1315.6 2450,1321.2 2455,1330.8 2460,1346.5 2465,1374.5 2470,1411.7 2475,1471.4 2480,1538.4 2485,1642.8 2490,1756.5 2495,1781.5 2500,1780.0 2505,1771.4 2510,1737.9 2515,1642.8 2520,1568.3 2525,1516.1 2530,1404.3 2535,1463.9 2540,1579.4 2545,1642.8 2550,1780.7 2555,1790.8 2560,1782.6 2565,1793.8 2570,1795.6 2575,1792.6 2580,1796.4 2585,1799.3 2590,1800.5 2595,1810.5 2600,1799.3 2605,1804.2 2610,1806.1 2615,1807.9 2619,1791.9 2624,1750.9 2629,1722.9 2634,1698.7 2639,1635.4 2644,1527.3 2649,1452.7 2654,1391.2 2659,1353.2 2664,1354.0 2669,1348.4 2674,1355.8 2679,1352.8 2684,1404.3 2689,1512.4 2694,1713.6 2699,1786.3 2704,1754.6 2709,1713.6 2714,1665.2 2719,1613.0 2724,1504.9 2729,1342.0 2734,1383.8 2739,1384.5 2744,1396.8 2749,1449.0 2754,1536.6 2759,1547.0 2764,1613.0 2769,1679.0 2774,1660.3 2779,1702.4 2784,1780.7 2789,1778.9 2794,1772.1 2799,1763.2 2804,1557.1 2809,1509.7 2814,1510.5 2819,1575.7 2824,1695.0 2829,1767.7 2834,1772.1 2839,1759.5 2844,1776.2 2849,1793.0 2854,1765.8 2859,1752.8 2864,1706.2 2869,1646.5 2874,1580.6 2879,1562.7 2884,1533.6 2889,1613.0 2894,1681.9 2899,1690.5 2904,1702.4 2909,1725.9 2914,1721.8 2919,1718.1 2924,1748.3 2929,1733.4 2934,1719.2 2939,1627.9 2944,1568.3 2949,1467.6 2954,1396.1 2959,1429.2 2964,1436.0 2969,1453.8 2974,1416.2 2979,1425.9 2984,1455.7 2989,1557.8 2994,1556.0 2999,1593.6 3004,1549.6 3009,1501.2 3014,1460.2 3019,1430.4 3024,1413.6 3029,1415.5 3034,1389.4 3039,1355.8 3044,1355.1 3049,1333.5 3053,1323.4 3058,1330.8 3063,1327.9 3068,1357.7 3073,1365.1 3078,1395.0 3083,1441.5 3088,1583.2 3093,1642.8 3098,1677.5 3103,1656.6 3108,1691.3 3113,1678.2 3118,1685.7 3123,1719.2 3128,1729.7 3133,1734.1 3138,1761.0 3143,1782.6 3148,1788.2 3153,1791.1 3158,1783.3 3163,1783.3 3168,1780.7 3173,1780.0 3178,1768.4 3183,1754.6 3188,1726.7 3193,1676.4 3198,1623.4" fill="none" stroke="#384b0c" stroke-width="1.1" stroke-linejoin="round"/>
</g>
<path d="M11 30H3199V1918H11Z" fill="none" stroke="#ebedf3" stroke-width="2"/>
<path d="M80.5 30V1918" fill="none" stroke="#f0f1f4" stroke-width="1"/>
<path d="M11 1232.5H3199M11 1888.5H3199" fill="none" stroke="#e0e3eb" stroke-width="1"/>
<g opacity="0.999">
<text x="22.00" y="46.9" textLength="48.01" lengthAdjust="spacingAndGlyphs">1.16800</text>
<text x="22.00" y="97.8" textLength="48.01" lengthAdjust="spacingAndGlyphs">1.16750</text>
<text x="22.00" y="147.8" textLength="48.01" lengthAdjust="spacingAndGlyphs">1.16700</text>
<text x="22.00" y="198.8" textLength="48.01" lengthAdjust="spacingAndGlyphs">1.16650</text>
<text x="22.00" y="248.8" textLength="48.01" lengthAdjust="spacingAndGlyphs">1.16600</text>
<text x="22.00" y="299.9" textLength="48.01" lengthAdjust="spacingAndGlyphs">1.16550</text>
<text x="22.00" y="349.9" textLength="48.01" lengthAdjust="spacingAndGlyphs">1.16500</text>
<text x="22.00" y="400.9" textLength="48.01" lengthAdjust="spacingAndGlyphs">1.16450</text>
<text x="22.00" y="450.9" textLength="48.01" lengthAdjust="spacingAndGlyphs">1.16400</text>
<text x="22.00" y="501.9" textLength="48.01" lengthAdjust="spacingAndGlyphs">1.16350</text>
<text x="22.00" y="551.9" textLength="48.01" lengthAdjust="spacingAndGlyphs">1.16300</text>
<text x="22.00" y="601.9" textLength="48.01" lengthAdjust="spacingAndGlyphs">1.16250</text>
<text x="22.00" y="652.9" textLength="48.01" lengthAdjust="spacingAndGlyphs">1.16200</text>
<text x="22.00" y="702.9" textLength="48.01" lengthAdjust="spacingAndGlyphs">1.16150</text>
<text x="22.00" y="753.9" textLength="48.01" lengthAdjust="spacingAndGlyphs">1.16100</text>
<text x="22.00" y="803.9" textLength="48.01" lengthAdjust="spacingAndGlyphs">1.16050</text>
<text x="22.00" y="854.9" textLength="48.01" lengthAdjust="spacingAndGlyphs">1.16000</text>
<text x="22.00" y="904.9" textLength="48.01" lengthAdjust="spacingAndGlyphs">1.15950</text>
<text x="22.00" y="955.9" textLength="48.01" lengthAdjust="spacingAndGlyphs">1.15900</text>
<text x="22.00" y="1005.9" textLength="48.01" lengthAdjust="spacingAndGlyphs">1.15850</text>
<text x="22.00" y="1056.8" textLength="48.01" lengthAdjust="spacingAndGlyphs">1.15800</text>
<text x="22.00" y="1106.8" textLength="48.01" lengthAdjust="spacingAndGlyphs">1.15750</text>
<text x="22.00" y="1157.8" textLength="48.01" lengthAdjust="spacingAndGlyphs">1.15700</text>
<text x="22.00" y="1207.8" textLength="48.01" lengthAdjust="spacingAndGlyphs">1.15650</text>
<text x="61.92" y="1838.8" textLength="8.03" lengthAdjust="spacingAndGlyphs">0</text>
<text x="55.85" y="1785.8" textLength="14.04" lengthAdjust="spacingAndGlyphs">10</text>
<text x="55.14" y="1731.8" textLength="14.78" lengthAdjust="spacingAndGlyphs">20</text>
<text x="55.36" y="1678.8" textLength="14.54" lengthAdjust="spacingAndGlyphs">30</text>
<text x="55.59" y="1624.8" textLength="14.32" lengthAdjust="spacingAndGlyphs">40</text>
<text x="55.36" y="1570.8" textLength="14.54" lengthAdjust="spacingAndGlyphs">50</text>
<text x="55.14" y="1517.8" textLength="14.78" lengthAdjust="spacingAndGlyphs">60</text>
<text x="55.14" y="1463.8" textLength="14.78" lengthAdjust="spacingAndGlyphs">70</text>
<text x="55.25" y="1410.8" textLength="14.66" lengthAdjust="spacingAndGlyphs">80</text>
<text x="55.25" y="1356.8" textLength="14.66" lengthAdjust="spacingAndGlyphs">90</text>
<text x="48.28" y="1303.8" textLength="21.63" lengthAdjust="spacingAndGlyphs">100</text>
<text x="48.23" y="1249.8" textLength="21.69" lengthAdjust="spacingAndGlyphs">110</text>
<path d="M81 900.1H19.1a2 2 0 0 0-2 2V931.9a2 2 0 0 0 2 2H81Z" fill="#ffb74d"/>
<path d="M82.2 900.1H139a2 2 0 0 1 2 2V916.7a2 2 0 0 1-2 2H82.2Z" fill="#ffb74d"/>
<text x="22.21" y="913.9" textLength="47.51" lengthAdjust="spacingAndGlyphs" fill="#1d1405">1.15942</text>
<text x="36.56" y="928.9" textLength="33.06" lengthAdjust="spacingAndGlyphs" fill="#4a3510">01:08</text>
<text x="87.87" y="913.9" textLength="46.55" lengthAdjust="spacingAndGlyphs" fill="#1d1405">EURUSD</text>
<text x="153.81" y="1907.8" textLength="32.85" lengthAdjust="spacingAndGlyphs">06:00</text>
<text x="273.25" y="1907.8" textLength="33.42" lengthAdjust="spacingAndGlyphs">12:00</text>
<text x="393.25" y="1907.8" textLength="33.42" lengthAdjust="spacingAndGlyphs">18:00</text>
<text x="521.66" y="1907.8" textLength="14.71" lengthAdjust="spacingAndGlyphs">19</text>
<text x="632.81" y="1907.8" textLength="32.85" lengthAdjust="spacingAndGlyphs">06:00</text>
<text x="752.25" y="1907.8" textLength="33.42" lengthAdjust="spacingAndGlyphs">12:00</text>
<text x="871.25" y="1907.8" textLength="33.42" lengthAdjust="spacingAndGlyphs">18:00</text>
<text x="1001.01" y="1907.8" textLength="14.24" lengthAdjust="spacingAndGlyphs">20</text>
<text x="1111.81" y="1907.8" textLength="32.85" lengthAdjust="spacingAndGlyphs">06:00</text>
<text x="1231.25" y="1907.8" textLength="33.42" lengthAdjust="spacingAndGlyphs">12:00</text>
<text x="1350.25" y="1907.8" textLength="33.42" lengthAdjust="spacingAndGlyphs">18:00</text>
<text x="1480.00" y="1907.8" textLength="14.47" lengthAdjust="spacingAndGlyphs">21</text>
<text x="1590.81" y="1907.8" textLength="32.85" lengthAdjust="spacingAndGlyphs">06:00</text>
<text x="1710.25" y="1907.8" textLength="33.42" lengthAdjust="spacingAndGlyphs">12:00</text>
<text x="1829.25" y="1907.8" textLength="33.42" lengthAdjust="spacingAndGlyphs">18:00</text>
<text x="1959.00" y="1907.8" textLength="14.47" lengthAdjust="spacingAndGlyphs">22</text>
<text x="2069.81" y="1907.8" textLength="32.85" lengthAdjust="spacingAndGlyphs">06:00</text>
<text x="2188.25" y="1907.8" textLength="33.42" lengthAdjust="spacingAndGlyphs">12:00</text>
<text x="2298.02" y="1907.8" textLength="14.12" lengthAdjust="spacingAndGlyphs">24</text>
<text x="2437.49" y="1907.8" textLength="15.38" lengthAdjust="spacingAndGlyphs" font-weight="bold" fill="#131722">25</text>
<text x="2548.81" y="1907.8" textLength="32.85" lengthAdjust="spacingAndGlyphs">06:00</text>
<text x="2667.25" y="1907.8" textLength="33.42" lengthAdjust="spacingAndGlyphs">12:00</text>
<text x="2787.25" y="1907.8" textLength="33.42" lengthAdjust="spacingAndGlyphs">18:00</text>
<text x="2917.00" y="1907.8" textLength="14.35" lengthAdjust="spacingAndGlyphs">26</text>
<text x="3027.81" y="1907.8" textLength="32.85" lengthAdjust="spacingAndGlyphs">06:00</text>
<text x="3146.25" y="1907.8" textLength="33.42" lengthAdjust="spacingAndGlyphs">12:00</text>
<text x="10.45" y="21.3" textLength="397.31" lengthAdjust="spacingAndGlyphs" font-size="14">ChartVPS published on TradingView.com, Oct 26, 2021 13:58 UTC-4</text>
<text x="89.47" y="50.8" textLength="167.31" lengthAdjust="spacingAndGlyphs">Euro / U.S. Dollar, 15, FXCM</text>
<text x="263.84" y="50.8" textLength="8.55" lengthAdjust="spacingAndGlyphs">O</text>
<text x="273.55" y="50.8" textLength="45.63" lengthAdjust="spacingAndGlyphs" fill="#ffb74d">1.15944</text>
<text x="326.62" y="50.8" textLength="9.43" lengthAdjust="spacingAndGlyphs">H</text>
<text x="336.55" y="50.8" textLength="45.65" lengthAdjust="spacingAndGlyphs" fill="#ffb74d">1.15953</text>
<text x="389.95" y="50.8" textLength="7.04" lengthAdjust="spacingAndGlyphs">L</text>
<text x="397.65" y="50.8" textLength="45.95" lengthAdjust="spacingAndGlyphs" fill="#ffb74d">1.15930</text>
<text x="451.29" y="50.8" textLength="7.32" lengthAdjust="spacingAndGlyphs">C</text>
<text x="459.64" y="50.8" textLength="46.07" lengthAdjust="spacingAndGlyphs" fill="#ffb74d">1.15942</text>
<text x="513.48" y="50.8" textLength="107.45" lengthAdjust="spacingAndGlyphs" fill="#ffb74d">−0.00002 (−0.00%)</text>
<text x="89.49" y="69.6" textLength="403.66" lengthAdjust="spacingAndGlyphs">NEXT Strategy Visualizer (NEXT Stochastic 3xVW: %K, 30, 70, 50, 50)</text>
<text x="500.02" y="69.6" textLength="6.55" lengthAdjust="spacingAndGlyphs" fill="#00e676">1</text>
<text x="515.24" y="69.6" textLength="7.69" lengthAdjust="spacingAndGlyphs" fill="#ff5252">0</text>
<text x="530.44" y="69.6" textLength="20.43" lengthAdjust="spacingAndGlyphs">n/a</text>
<text x="559.42" y="69.6" textLength="21.05" lengthAdjust="spacingAndGlyphs">n/a</text>
<text x="89.21" y="1254.4" textLength="274.85" lengthAdjust="spacingAndGlyphs">NEXT Stochastic 3xVW (5, 10, 1, 3, 70, 50, 30)</text>
<text x="371.45" y="1254.4" textLength="14.46" lengthAdjust="spacingAndGlyphs" fill="#22ab22">29</text>
<text x="393.47" y="1254.4" textLength="14.23" lengthAdjust="spacingAndGlyphs" fill="#4a5d1e">39</text>
<text x="36.10" y="1942.8" textLength="77.61" lengthAdjust="spacingAndGlyphs" font-size="14" fill="#2a2e39">TradingView</text>
</g>
<g transform="translate(10.9,1928.85) scale(0.6)" fill="#131722"><path d="M14 22H7V11H0V4h14v18zM28 22h-8l7.5-18h8L28 22z"/><circle cx="20" cy="8" r="4"/></g>
</svg>
</body></html>
